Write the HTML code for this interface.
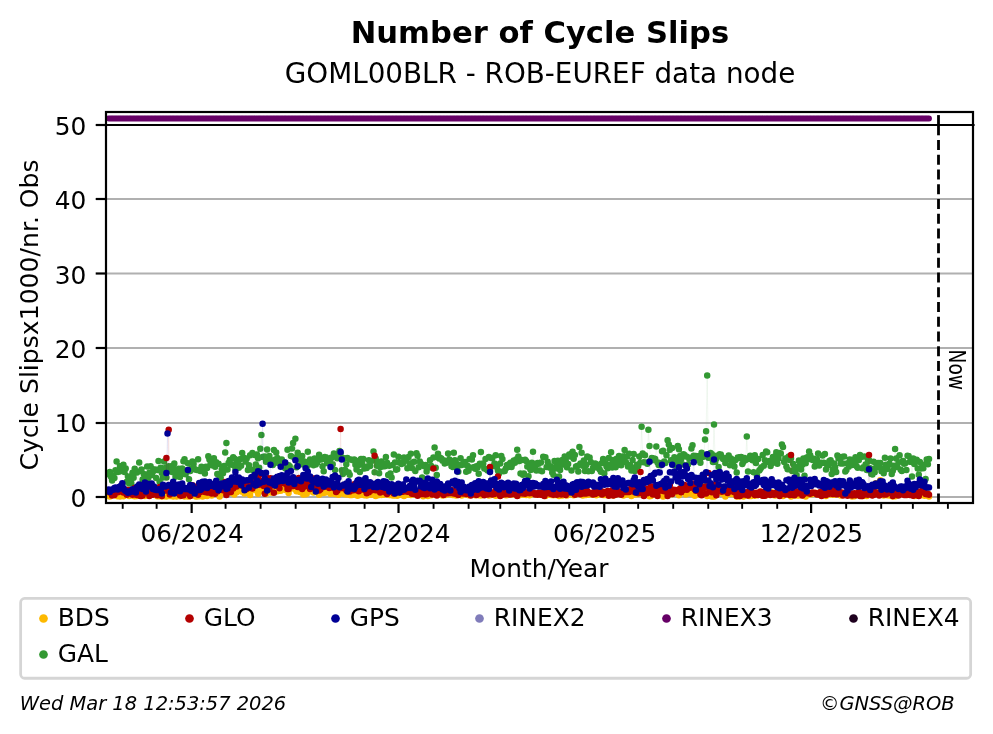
<!DOCTYPE html>
<html lang="en">
<head>
<meta charset="utf-8">
<title>Number of Cycle Slips</title>
<style>
html,body{margin:0;padding:0;background:#fff;}
body{width:993px;height:734px;overflow:hidden;}
svg{display:block;}
text{font-family:"DejaVu Sans","Liberation Sans",sans-serif;fill:#000;}
.t{font-size:24px;}
.d{fill:none;stroke-linecap:round;stroke-width:6.5;}
.l{fill:none;stroke-width:0.6;stroke-opacity:0.12;}
</style>
</head>
<body>
<svg width="993" height="734" viewBox="0 0 993 734">
<rect x="0" y="0" width="993" height="734" fill="#ffffff"/>
<text transform="translate(539.90 42.90) scale(1.0023 1)" font-size="30.56" text-anchor="middle" font-weight="bold" id="title">Number of Cycle Slips</text>
<text transform="translate(540.00 82.90) scale(1.0010 1)" font-size="27.78" text-anchor="middle" id="subtitle">GOML00BLR - ROB-EUREF data node</text>
<g stroke="#b0b0b0" stroke-width="2.2">
<line x1="106.0" y1="497.00" x2="973.0" y2="497.00"/>
<line x1="106.0" y1="423.00" x2="973.0" y2="423.00"/>
<line x1="106.0" y1="348.00" x2="973.0" y2="348.00"/>
<line x1="106.0" y1="273.50" x2="973.0" y2="273.50"/>
<line x1="106.0" y1="199.00" x2="973.0" y2="199.00"/>
</g>
<clipPath id="c"><rect x="106.0" y="112.0" width="867.0" height="391.0"/></clipPath>
<g clip-path="url(#c)">
<polyline class="l" stroke="#fdb900" points="108.7,495.3 109.8,496.5 111.0,494.9 112.1,495.1 113.2,492.6 114.4,494.3 115.5,495.5 116.6,494.5 117.8,496.2 118.9,495.6 120.0,496.5 121.1,493.5 122.3,494.4 123.4,496.2 124.5,495.0 125.7,494.0 126.8,494.4 127.9,494.5 129.1,495.9 130.2,495.7 131.3,494.8 132.5,493.9 133.6,495.9 134.7,496.2 135.9,493.6 137.0,496.0 138.1,493.6 139.2,494.6 140.4,493.8 141.5,492.8 142.6,494.0 143.8,493.9 144.9,496.0 146.0,495.8 147.2,494.0 148.3,492.9 149.4,493.0 150.6,491.8 151.7,494.4 152.8,494.6 154.0,493.5 155.1,494.8 156.2,494.9 157.4,496.3 158.5,493.4 159.6,496.3 160.7,494.1 161.9,496.5 163.0,493.2 164.1,496.3 165.3,493.5 166.4,496.5 167.5,495.4 168.7,493.0 169.8,496.0 170.9,494.7 172.1,495.5 173.2,496.5 174.3,494.3 175.5,494.1 176.6,496.5 177.7,493.8 178.8,496.0 180.0,496.3 181.1,494.7 182.2,495.8 183.4,490.9 184.5,496.5 185.6,493.4 186.8,493.0 187.9,496.5 189.0,496.5 190.2,493.7 191.3,495.5 192.4,494.0 193.6,492.6 194.7,495.3 195.8,496.5 197.0,496.5 198.1,494.3 199.2,496.3 200.3,494.0 201.5,494.0 202.6,496.5 203.7,491.0 204.9,492.0 206.0,492.4 207.1,496.1 208.3,494.5 209.4,494.6 210.5,494.3 211.7,495.5 212.8,492.4 213.9,492.6 215.1,492.2 216.2,493.8 217.3,490.1 218.5,492.2 219.6,496.5 220.7,493.6 221.8,492.3 223.0,490.1 224.1,492.6 225.2,492.3 226.4,493.1 227.5,490.2 228.6,492.4 229.8,492.6 230.9,492.8 232.0,489.9 233.2,492.1 234.3,494.5 235.4,489.4 236.6,492.2 237.7,489.9 238.8,489.8 239.9,487.9 241.1,488.3 242.2,491.8 243.3,490.9 244.5,493.4 245.6,486.7 246.7,489.4 247.9,487.3 249.0,491.1 250.1,494.9 251.3,486.9 252.4,490.1 253.5,489.9 254.7,490.1 255.8,488.7 256.9,489.0 258.1,493.7 259.2,487.7 260.3,491.2 261.4,491.1 262.6,486.1 263.7,487.9 264.8,490.7 266.0,494.1 267.1,489.5 268.2,488.6 269.4,490.0 270.5,492.6 271.6,491.5 272.8,492.5 273.9,489.2 275.0,487.8 276.2,487.3 277.3,491.2 278.4,489.0 279.5,488.3 280.7,490.7 281.8,489.8 282.9,484.7 284.1,489.0 285.2,487.4 286.3,490.3 287.5,489.2 288.6,493.1 289.7,489.3 290.9,486.7 292.0,484.8 293.1,486.9 294.3,488.1 295.4,489.6 296.5,491.2 297.7,490.3 298.8,488.7 299.9,491.9 301.0,488.2 302.2,492.6 303.3,494.4 304.4,492.8 305.6,494.3 306.7,493.7 307.8,488.5 309.0,491.4 310.1,490.7 311.2,488.8 312.4,488.8 313.5,492.5 314.6,488.9 315.8,490.9 316.9,491.8 318.0,491.0 319.1,494.7 320.3,493.6 321.4,492.4 322.5,491.1 323.7,493.1 324.8,492.7 325.9,490.8 327.1,490.1 328.2,491.4 329.3,490.6 330.5,493.7 331.6,493.6 332.7,492.5 333.9,493.6 335.0,494.0 336.1,490.3 337.3,493.5 338.4,494.8 339.5,492.4 340.6,490.2 341.8,493.1 342.9,491.3 344.0,494.0 345.2,494.1 346.3,494.4 347.4,493.6 348.6,490.6 349.7,495.1 350.8,491.0 352.0,494.9 353.1,493.8 354.2,492.3 355.4,492.6 356.5,493.2 357.6,495.8 358.8,493.1 359.9,495.0 361.0,490.2 362.1,493.9 363.3,493.4 364.4,495.2 365.5,494.3 366.7,495.4 367.8,492.6 368.9,494.1 370.1,493.2 371.2,494.7 372.3,494.5 373.5,492.4 374.6,495.0 375.7,495.9 376.9,493.5 378.0,495.2 379.1,494.5 380.2,493.1 381.4,494.9 382.5,493.2 383.6,494.8 384.8,492.7 385.9,492.9 387.0,494.6 388.2,494.4 389.3,495.0 390.4,494.1 391.6,493.3 392.7,495.5 393.8,493.6 395.0,495.4 396.1,495.1 397.2,495.8 398.4,492.8 399.5,494.4 400.6,494.3 401.7,495.0 402.9,493.7 404.0,496.0 405.1,494.4 406.3,492.8 407.4,494.8 408.5,494.5 409.7,494.0 410.8,495.1 411.9,494.5 413.1,493.8 414.2,494.3 415.3,494.2 416.5,494.7 417.6,494.2 418.7,494.4 419.8,493.4 421.0,493.9 422.1,494.6 423.2,496.3 424.4,493.9 425.5,493.9 426.6,495.2 427.8,496.0 428.9,495.3 430.0,493.8 431.2,495.3 432.3,494.8 433.4,494.3 434.6,493.6 435.7,494.5 436.8,494.5 438.0,494.9 439.1,493.3 440.2,493.7 441.3,494.5 442.5,495.5 443.6,495.1 444.7,494.0 445.9,495.0 447.0,493.8 448.1,494.2 449.3,494.3 450.4,494.0 451.5,494.1 452.7,495.1 453.8,494.7 454.9,492.7 456.1,495.4 457.2,494.8 458.3,493.7 459.4,494.6 460.6,495.1 461.7,495.5 462.8,494.1 464.0,493.7 465.1,493.4 466.2,494.4 467.4,493.7 468.5,495.2 469.6,494.3 470.8,495.0 471.9,494.3 473.0,493.9 474.2,493.7 475.3,495.2 476.4,493.5 477.6,494.8 478.7,495.2 479.8,494.6 480.9,495.6 482.1,494.5 483.2,494.3 484.3,494.6 485.5,494.1 486.6,494.7 487.7,494.5 488.9,495.5 490.0,494.4 491.1,495.1 492.3,494.8 493.4,494.5 494.5,494.3 495.7,495.7 496.8,495.6 497.9,494.7 499.0,494.1 500.2,494.2 501.3,493.8 502.4,493.5 503.6,494.1 504.7,494.5 505.8,495.2 507.0,495.2 508.1,494.8 509.2,494.3 510.4,494.3 511.5,494.5 512.6,494.6 513.8,494.0 514.9,494.3 516.0,494.2 517.2,494.2 518.3,494.9 519.4,495.2 520.5,494.1 521.7,494.2 522.8,494.6 523.9,494.8 525.1,492.8 526.2,495.0 527.3,494.6 528.5,494.3 529.6,495.3 530.7,494.4 531.9,493.1 533.0,493.8 534.1,494.0 535.3,494.0 536.4,494.4 537.5,493.8 538.7,494.6 539.8,494.8 540.9,494.4 542.0,493.8 543.2,494.2 544.3,494.0 545.4,496.0 546.6,493.6 547.7,492.7 548.8,493.5 550.0,494.7 551.1,495.1 552.2,494.3 553.4,495.2 554.5,493.9 555.6,494.9 556.8,493.8 557.9,493.5 559.0,496.0 560.1,494.3 561.3,495.0 562.4,495.5 563.5,494.9 564.7,494.6 565.8,493.7 566.9,495.6 568.1,493.7 569.2,493.0 570.3,494.0 571.5,494.1 572.6,494.5 573.7,495.3 574.9,494.1 576.0,494.2 577.1,493.9 578.3,492.6 579.4,493.9 580.5,494.2 581.6,493.3 582.8,495.5 583.9,495.3 585.0,494.7 586.2,495.0 587.3,494.0 588.4,494.7 589.6,493.2 590.7,493.3 591.8,493.9 593.0,494.8 594.1,494.0 595.2,493.9 596.4,495.3 597.5,494.2 598.6,493.9 599.7,494.3 600.9,493.3 602.0,493.6 603.1,495.1 604.3,494.4 605.4,495.1 606.5,494.0 607.7,495.1 608.8,493.8 609.9,494.2 611.1,493.7 612.2,494.6 613.3,495.6 614.5,493.2 615.6,494.6 616.7,493.4 617.9,494.1 619.0,494.0 620.1,493.1 621.2,494.2 622.4,493.3 623.5,495.6 624.6,493.6 625.8,494.5 626.9,494.4 628.0,494.2 629.2,493.9 630.3,492.6 631.4,495.9 632.6,494.0 633.7,494.7 634.8,492.8 636.0,494.4 637.1,493.4 638.2,494.3 639.3,493.1 640.5,492.7 641.6,494.2 642.7,493.7 643.9,495.4 645.0,493.3 646.1,492.6 647.3,494.3 648.4,492.1 649.5,496.2 650.7,495.9 651.8,495.3 652.9,494.1 654.1,493.4 655.2,493.5 656.3,493.4 657.5,492.2 658.6,493.9 659.7,495.1 660.8,495.0 662.0,489.9 663.1,496.5 664.2,493.3 665.4,490.7 666.5,492.2 667.6,494.3 668.8,492.9 669.9,491.4 671.0,490.8 672.2,494.3 673.3,491.4 674.4,492.3 675.6,490.7 676.7,490.2 677.8,493.2 678.9,495.3 680.1,491.8 681.2,489.2 682.3,491.2 683.5,492.0 684.6,487.7 685.7,494.4 686.9,490.5 688.0,493.4 689.1,492.2 690.3,492.1 691.4,489.1 692.5,494.2 693.7,493.4 694.8,495.7 695.9,491.3 697.1,493.4 698.2,491.5 699.3,494.8 700.4,493.2 701.6,490.2 702.7,492.9 703.8,491.1 705.0,485.5 706.1,493.3 707.2,495.9 708.4,490.5 709.5,492.2 710.6,490.6 711.8,496.5 712.9,496.0 714.0,496.5 715.2,494.5 716.3,490.7 717.4,491.6 718.6,492.8 719.7,492.5 720.8,491.3 721.9,493.4 723.1,492.1 724.2,492.6 725.3,496.5 726.5,493.6 727.6,490.5 728.7,493.7 729.9,493.2 731.0,494.1 732.1,493.9 733.3,491.1 734.4,493.6 735.5,494.9 736.7,496.5 737.8,494.2 738.9,496.5 740.0,496.3 741.2,492.1 742.3,492.3 743.4,496.5 744.6,492.2 745.7,492.9 746.8,494.8 748.0,492.5 749.1,496.1 750.2,495.5 751.4,495.9 752.5,495.4 753.6,492.6 754.8,495.8 755.9,495.6 757.0,495.3 758.2,493.8 759.3,494.5 760.4,492.9 761.5,495.0 762.7,495.8 763.8,494.8 764.9,494.0 766.1,495.3 767.2,493.7 768.3,491.6 769.5,494.9 770.6,494.0 771.7,492.3 772.9,495.0 774.0,495.2 775.1,495.6 776.3,493.6 777.4,493.4 778.5,494.3 779.6,494.0 780.8,492.4 781.9,492.9 783.0,496.0 784.2,494.1 785.3,493.9 786.4,493.1 787.6,494.4 788.7,495.0 789.8,494.7 791.0,496.5 792.1,494.1 793.2,494.9 794.4,493.5 795.5,495.5 796.6,494.7 797.8,495.4 798.9,495.6 800.0,493.1 801.1,494.7 802.3,493.5 803.4,495.6 804.5,494.0 805.7,496.4 806.8,494.7 807.9,494.8 809.1,493.3 810.2,493.8 811.3,494.3 812.5,492.9 813.6,493.8 814.7,493.3 815.9,493.0 817.0,494.2 818.1,494.5 819.2,493.6 820.4,494.7 821.5,493.5 822.6,492.5 823.8,492.9 824.9,494.6 826.0,495.9 827.2,494.1 828.3,494.2 829.4,492.5 830.6,494.6 831.7,494.4 832.8,493.0 834.0,494.7 835.1,494.3 836.2,491.7 837.4,492.0 838.5,493.2 839.6,493.7 840.7,495.4 841.9,493.3 843.0,494.0 844.1,493.7 845.3,494.8 846.4,494.1 847.5,494.3 848.7,493.6 849.8,492.0 850.9,493.5 852.1,496.4 853.2,495.4 854.3,496.3 855.5,495.2 856.6,493.2 857.7,493.5 858.9,494.9 860.0,493.7 861.1,495.1 862.2,496.1 863.4,496.0 864.5,495.3 865.6,492.0 866.8,495.9 867.9,492.2 869.0,492.1 870.2,494.3 871.3,494.1 872.4,494.9 873.6,494.1 874.7,493.1 875.8,483.3 877.0,492.6 878.1,492.3 879.2,493.5 880.3,480.3 881.5,494.1 882.6,493.5 883.7,495.6 884.9,493.4 886.0,493.7 887.1,495.3 888.3,490.9 889.4,495.4 890.5,495.3 891.7,493.6 892.8,496.5 893.9,495.1 895.1,496.2 896.2,495.4 897.3,494.2 898.5,493.5 899.6,492.4 900.7,492.8 901.8,492.3 903.0,493.1 904.1,494.7 905.2,492.4 906.4,494.7 907.5,494.9 908.6,491.7 909.8,492.8 910.9,493.7 912.0,492.9 913.2,492.7 914.3,496.0 915.4,494.1 916.6,495.7 917.7,493.8 918.8,495.0 919.9,492.0 921.1,493.2 922.2,495.2 923.3,494.0 924.5,495.8 925.6,493.9 926.7,493.1 927.9,493.6 929.0,496.5"/>
<path class="d" stroke="#fdb900" d="M108.7 495.3h0M109.8 496.5h0M111.0 494.9h0M112.1 495.1h0M113.2 492.6h0M114.4 494.3h0M115.5 495.5h0M116.6 494.5h0M117.8 496.2h0M118.9 495.6h0M120.0 496.5h0M121.1 493.5h0M122.3 494.4h0M123.4 496.2h0M124.5 495.0h0M125.7 494.0h0M126.8 494.4h0M127.9 494.5h0M129.1 495.9h0M130.2 495.7h0M131.3 494.8h0M132.5 493.9h0M133.6 495.9h0M134.7 496.2h0M135.9 493.6h0M137.0 496.0h0M138.1 493.6h0M139.2 494.6h0M140.4 493.8h0M141.5 492.8h0M142.6 494.0h0M143.8 493.9h0M144.9 496.0h0M146.0 495.8h0M147.2 494.0h0M148.3 492.9h0M149.4 493.0h0M150.6 491.8h0M151.7 494.4h0M152.8 494.6h0M154.0 493.5h0M155.1 494.8h0M156.2 494.9h0M157.4 496.3h0M158.5 493.4h0M159.6 496.3h0M160.7 494.1h0M161.9 496.5h0M163.0 493.2h0M164.1 496.3h0M165.3 493.5h0M166.4 496.5h0M167.5 495.4h0M168.7 493.0h0M169.8 496.0h0M170.9 494.7h0M172.1 495.5h0M173.2 496.5h0M174.3 494.3h0M175.5 494.1h0M176.6 496.5h0M177.7 493.8h0M178.8 496.0h0M180.0 496.3h0M181.1 494.7h0M182.2 495.8h0M183.4 490.9h0M184.5 496.5h0M185.6 493.4h0M186.8 493.0h0M187.9 496.5h0M189.0 496.5h0M190.2 493.7h0M191.3 495.5h0M192.4 494.0h0M193.6 492.6h0M194.7 495.3h0M195.8 496.5h0M197.0 496.5h0M198.1 494.3h0M199.2 496.3h0M200.3 494.0h0M201.5 494.0h0M202.6 496.5h0M203.7 491.0h0M204.9 492.0h0M206.0 492.4h0M207.1 496.1h0M208.3 494.5h0M209.4 494.6h0M210.5 494.3h0M211.7 495.5h0M212.8 492.4h0M213.9 492.6h0M215.1 492.2h0M216.2 493.8h0M217.3 490.1h0M218.5 492.2h0M219.6 496.5h0M220.7 493.6h0M221.8 492.3h0M223.0 490.1h0M224.1 492.6h0M225.2 492.3h0M226.4 493.1h0M227.5 490.2h0M228.6 492.4h0M229.8 492.6h0M230.9 492.8h0M232.0 489.9h0M233.2 492.1h0M234.3 494.5h0M235.4 489.4h0M236.6 492.2h0M237.7 489.9h0M238.8 489.8h0M239.9 487.9h0M241.1 488.3h0M242.2 491.8h0M243.3 490.9h0M244.5 493.4h0M245.6 486.7h0M246.7 489.4h0M247.9 487.3h0M249.0 491.1h0M250.1 494.9h0M251.3 486.9h0M252.4 490.1h0M253.5 489.9h0M254.7 490.1h0M255.8 488.7h0M256.9 489.0h0M258.1 493.7h0M259.2 487.7h0M260.3 491.2h0M261.4 491.1h0M262.6 486.1h0M263.7 487.9h0M264.8 490.7h0M266.0 494.1h0M267.1 489.5h0M268.2 488.6h0M269.4 490.0h0M270.5 492.6h0M271.6 491.5h0M272.8 492.5h0M273.9 489.2h0M275.0 487.8h0M276.2 487.3h0M277.3 491.2h0M278.4 489.0h0M279.5 488.3h0M280.7 490.7h0M281.8 489.8h0M282.9 484.7h0M284.1 489.0h0M285.2 487.4h0M286.3 490.3h0M287.5 489.2h0M288.6 493.1h0M289.7 489.3h0M290.9 486.7h0M292.0 484.8h0M293.1 486.9h0M294.3 488.1h0M295.4 489.6h0M296.5 491.2h0M297.7 490.3h0M298.8 488.7h0M299.9 491.9h0M301.0 488.2h0M302.2 492.6h0M303.3 494.4h0M304.4 492.8h0M305.6 494.3h0M306.7 493.7h0M307.8 488.5h0M309.0 491.4h0M310.1 490.7h0M311.2 488.8h0M312.4 488.8h0M313.5 492.5h0M314.6 488.9h0M315.8 490.9h0M316.9 491.8h0M318.0 491.0h0M319.1 494.7h0M320.3 493.6h0M321.4 492.4h0M322.5 491.1h0M323.7 493.1h0M324.8 492.7h0M325.9 490.8h0M327.1 490.1h0M328.2 491.4h0M329.3 490.6h0M330.5 493.7h0M331.6 493.6h0M332.7 492.5h0M333.9 493.6h0M335.0 494.0h0M336.1 490.3h0M337.3 493.5h0M338.4 494.8h0M339.5 492.4h0M340.6 490.2h0M341.8 493.1h0M342.9 491.3h0M344.0 494.0h0M345.2 494.1h0M346.3 494.4h0M347.4 493.6h0M348.6 490.6h0M349.7 495.1h0M350.8 491.0h0M352.0 494.9h0M353.1 493.8h0M354.2 492.3h0M355.4 492.6h0M356.5 493.2h0M357.6 495.8h0M358.8 493.1h0M359.9 495.0h0M361.0 490.2h0M362.1 493.9h0M363.3 493.4h0M364.4 495.2h0M365.5 494.3h0M366.7 495.4h0M367.8 492.6h0M368.9 494.1h0M370.1 493.2h0M371.2 494.7h0M372.3 494.5h0M373.5 492.4h0M374.6 495.0h0M375.7 495.9h0M376.9 493.5h0M378.0 495.2h0M379.1 494.5h0M380.2 493.1h0M381.4 494.9h0M382.5 493.2h0M383.6 494.8h0M384.8 492.7h0M385.9 492.9h0M387.0 494.6h0M388.2 494.4h0M389.3 495.0h0M390.4 494.1h0M391.6 493.3h0M392.7 495.5h0M393.8 493.6h0M395.0 495.4h0M396.1 495.1h0M397.2 495.8h0M398.4 492.8h0M399.5 494.4h0M400.6 494.3h0M401.7 495.0h0M402.9 493.7h0M404.0 496.0h0M405.1 494.4h0M406.3 492.8h0M407.4 494.8h0M408.5 494.5h0M409.7 494.0h0M410.8 495.1h0M411.9 494.5h0M413.1 493.8h0M414.2 494.3h0M415.3 494.2h0M416.5 494.7h0M417.6 494.2h0M418.7 494.4h0M419.8 493.4h0M421.0 493.9h0M422.1 494.6h0M423.2 496.3h0M424.4 493.9h0M425.5 493.9h0M426.6 495.2h0M427.8 496.0h0M428.9 495.3h0M430.0 493.8h0M431.2 495.3h0M432.3 494.8h0M433.4 494.3h0M434.6 493.6h0M435.7 494.5h0M436.8 494.5h0M438.0 494.9h0M439.1 493.3h0M440.2 493.7h0M441.3 494.5h0M442.5 495.5h0M443.6 495.1h0M444.7 494.0h0M445.9 495.0h0M447.0 493.8h0M448.1 494.2h0M449.3 494.3h0M450.4 494.0h0M451.5 494.1h0M452.7 495.1h0M453.8 494.7h0M454.9 492.7h0M456.1 495.4h0M457.2 494.8h0M458.3 493.7h0M459.4 494.6h0M460.6 495.1h0M461.7 495.5h0M462.8 494.1h0M464.0 493.7h0M465.1 493.4h0M466.2 494.4h0M467.4 493.7h0M468.5 495.2h0M469.6 494.3h0M470.8 495.0h0M471.9 494.3h0M473.0 493.9h0M474.2 493.7h0M475.3 495.2h0M476.4 493.5h0M477.6 494.8h0M478.7 495.2h0M479.8 494.6h0M480.9 495.6h0M482.1 494.5h0M483.2 494.3h0M484.3 494.6h0M485.5 494.1h0M486.6 494.7h0M487.7 494.5h0M488.9 495.5h0M490.0 494.4h0M491.1 495.1h0M492.3 494.8h0M493.4 494.5h0M494.5 494.3h0M495.7 495.7h0M496.8 495.6h0M497.9 494.7h0M499.0 494.1h0M500.2 494.2h0M501.3 493.8h0M502.4 493.5h0M503.6 494.1h0M504.7 494.5h0M505.8 495.2h0M507.0 495.2h0M508.1 494.8h0M509.2 494.3h0M510.4 494.3h0M511.5 494.5h0M512.6 494.6h0M513.8 494.0h0M514.9 494.3h0M516.0 494.2h0M517.2 494.2h0M518.3 494.9h0M519.4 495.2h0M520.5 494.1h0M521.7 494.2h0M522.8 494.6h0M523.9 494.8h0M525.1 492.8h0M526.2 495.0h0M527.3 494.6h0M528.5 494.3h0M529.6 495.3h0M530.7 494.4h0M531.9 493.1h0M533.0 493.8h0M534.1 494.0h0M535.3 494.0h0M536.4 494.4h0M537.5 493.8h0M538.7 494.6h0M539.8 494.8h0M540.9 494.4h0M542.0 493.8h0M543.2 494.2h0M544.3 494.0h0M545.4 496.0h0M546.6 493.6h0M547.7 492.7h0M548.8 493.5h0M550.0 494.7h0M551.1 495.1h0M552.2 494.3h0M553.4 495.2h0M554.5 493.9h0M555.6 494.9h0M556.8 493.8h0M557.9 493.5h0M559.0 496.0h0M560.1 494.3h0M561.3 495.0h0M562.4 495.5h0M563.5 494.9h0M564.7 494.6h0M565.8 493.7h0M566.9 495.6h0M568.1 493.7h0M569.2 493.0h0M570.3 494.0h0M571.5 494.1h0M572.6 494.5h0M573.7 495.3h0M574.9 494.1h0M576.0 494.2h0M577.1 493.9h0M578.3 492.6h0M579.4 493.9h0M580.5 494.2h0M581.6 493.3h0M582.8 495.5h0M583.9 495.3h0M585.0 494.7h0M586.2 495.0h0M587.3 494.0h0M588.4 494.7h0M589.6 493.2h0M590.7 493.3h0M591.8 493.9h0M593.0 494.8h0M594.1 494.0h0M595.2 493.9h0M596.4 495.3h0M597.5 494.2h0M598.6 493.9h0M599.7 494.3h0M600.9 493.3h0M602.0 493.6h0M603.1 495.1h0M604.3 494.4h0M605.4 495.1h0M606.5 494.0h0M607.7 495.1h0M608.8 493.8h0M609.9 494.2h0M611.1 493.7h0M612.2 494.6h0M613.3 495.6h0M614.5 493.2h0M615.6 494.6h0M616.7 493.4h0M617.9 494.1h0M619.0 494.0h0M620.1 493.1h0M621.2 494.2h0M622.4 493.3h0M623.5 495.6h0M624.6 493.6h0M625.8 494.5h0M626.9 494.4h0M628.0 494.2h0M629.2 493.9h0M630.3 492.6h0M631.4 495.9h0M632.6 494.0h0M633.7 494.7h0M634.8 492.8h0M636.0 494.4h0M637.1 493.4h0M638.2 494.3h0M639.3 493.1h0M640.5 492.7h0M641.6 494.2h0M642.7 493.7h0M643.9 495.4h0M645.0 493.3h0M646.1 492.6h0M647.3 494.3h0M648.4 492.1h0M649.5 496.2h0M650.7 495.9h0M651.8 495.3h0M652.9 494.1h0M654.1 493.4h0M655.2 493.5h0M656.3 493.4h0M657.5 492.2h0M658.6 493.9h0M659.7 495.1h0M660.8 495.0h0M662.0 489.9h0M663.1 496.5h0M664.2 493.3h0M665.4 490.7h0M666.5 492.2h0M667.6 494.3h0M668.8 492.9h0M669.9 491.4h0M671.0 490.8h0M672.2 494.3h0M673.3 491.4h0M674.4 492.3h0M675.6 490.7h0M676.7 490.2h0M677.8 493.2h0M678.9 495.3h0M680.1 491.8h0M681.2 489.2h0M682.3 491.2h0M683.5 492.0h0M684.6 487.7h0M685.7 494.4h0M686.9 490.5h0M688.0 493.4h0M689.1 492.2h0M690.3 492.1h0M691.4 489.1h0M692.5 494.2h0M693.7 493.4h0M694.8 495.7h0M695.9 491.3h0M697.1 493.4h0M698.2 491.5h0M699.3 494.8h0M700.4 493.2h0M701.6 490.2h0M702.7 492.9h0M703.8 491.1h0M705.0 485.5h0M706.1 493.3h0M707.2 495.9h0M708.4 490.5h0M709.5 492.2h0M710.6 490.6h0M711.8 496.5h0M712.9 496.0h0M714.0 496.5h0M715.2 494.5h0M716.3 490.7h0M717.4 491.6h0M718.6 492.8h0M719.7 492.5h0M720.8 491.3h0M721.9 493.4h0M723.1 492.1h0M724.2 492.6h0M725.3 496.5h0M726.5 493.6h0M727.6 490.5h0M728.7 493.7h0M729.9 493.2h0M731.0 494.1h0M732.1 493.9h0M733.3 491.1h0M734.4 493.6h0M735.5 494.9h0M736.7 496.5h0M737.8 494.2h0M738.9 496.5h0M740.0 496.3h0M741.2 492.1h0M742.3 492.3h0M743.4 496.5h0M744.6 492.2h0M745.7 492.9h0M746.8 494.8h0M748.0 492.5h0M749.1 496.1h0M750.2 495.5h0M751.4 495.9h0M752.5 495.4h0M753.6 492.6h0M754.8 495.8h0M755.9 495.6h0M757.0 495.3h0M758.2 493.8h0M759.3 494.5h0M760.4 492.9h0M761.5 495.0h0M762.7 495.8h0M763.8 494.8h0M764.9 494.0h0M766.1 495.3h0M767.2 493.7h0M768.3 491.6h0M769.5 494.9h0M770.6 494.0h0M771.7 492.3h0M772.9 495.0h0M774.0 495.2h0M775.1 495.6h0M776.3 493.6h0M777.4 493.4h0M778.5 494.3h0M779.6 494.0h0M780.8 492.4h0M781.9 492.9h0M783.0 496.0h0M784.2 494.1h0M785.3 493.9h0M786.4 493.1h0M787.6 494.4h0M788.7 495.0h0M789.8 494.7h0M791.0 496.5h0M792.1 494.1h0M793.2 494.9h0M794.4 493.5h0M795.5 495.5h0M796.6 494.7h0M797.8 495.4h0M798.9 495.6h0M800.0 493.1h0M801.1 494.7h0M802.3 493.5h0M803.4 495.6h0M804.5 494.0h0M805.7 496.4h0M806.8 494.7h0M807.9 494.8h0M809.1 493.3h0M810.2 493.8h0M811.3 494.3h0M812.5 492.9h0M813.6 493.8h0M814.7 493.3h0M815.9 493.0h0M817.0 494.2h0M818.1 494.5h0M819.2 493.6h0M820.4 494.7h0M821.5 493.5h0M822.6 492.5h0M823.8 492.9h0M824.9 494.6h0M826.0 495.9h0M827.2 494.1h0M828.3 494.2h0M829.4 492.5h0M830.6 494.6h0M831.7 494.4h0M832.8 493.0h0M834.0 494.7h0M835.1 494.3h0M836.2 491.7h0M837.4 492.0h0M838.5 493.2h0M839.6 493.7h0M840.7 495.4h0M841.9 493.3h0M843.0 494.0h0M844.1 493.7h0M845.3 494.8h0M846.4 494.1h0M847.5 494.3h0M848.7 493.6h0M849.8 492.0h0M850.9 493.5h0M852.1 496.4h0M853.2 495.4h0M854.3 496.3h0M855.5 495.2h0M856.6 493.2h0M857.7 493.5h0M858.9 494.9h0M860.0 493.7h0M861.1 495.1h0M862.2 496.1h0M863.4 496.0h0M864.5 495.3h0M865.6 492.0h0M866.8 495.9h0M867.9 492.2h0M869.0 492.1h0M870.2 494.3h0M871.3 494.1h0M872.4 494.9h0M873.6 494.1h0M874.7 493.1h0M875.8 483.3h0M877.0 492.6h0M878.1 492.3h0M879.2 493.5h0M880.3 480.3h0M881.5 494.1h0M882.6 493.5h0M883.7 495.6h0M884.9 493.4h0M886.0 493.7h0M887.1 495.3h0M888.3 490.9h0M889.4 495.4h0M890.5 495.3h0M891.7 493.6h0M892.8 496.5h0M893.9 495.1h0M895.1 496.2h0M896.2 495.4h0M897.3 494.2h0M898.5 493.5h0M899.6 492.4h0M900.7 492.8h0M901.8 492.3h0M903.0 493.1h0M904.1 494.7h0M905.2 492.4h0M906.4 494.7h0M907.5 494.9h0M908.6 491.7h0M909.8 492.8h0M910.9 493.7h0M912.0 492.9h0M913.2 492.7h0M914.3 496.0h0M915.4 494.1h0M916.6 495.7h0M917.7 493.8h0M918.8 495.0h0M919.9 492.0h0M921.1 493.2h0M922.2 495.2h0M923.3 494.0h0M924.5 495.8h0M925.6 493.9h0M926.7 493.1h0M927.9 493.6h0M929.0 496.5h0"/>
<polyline class="l" stroke="#339933" points="108.7,474.4 109.8,471.9 111.0,476.8 112.1,480.5 113.2,476.2 114.4,478.0 115.5,470.3 116.6,461.5 117.8,472.0 118.9,471.7 120.0,466.2 121.1,468.4 122.3,471.0 123.4,464.7 124.5,472.0 125.7,468.6 126.8,481.7 127.9,476.5 129.1,483.5 130.2,479.8 131.3,483.0 132.5,472.7 133.6,477.7 134.7,468.8 135.9,471.2 137.0,472.6 138.1,486.0 139.2,462.5 140.4,471.0 141.5,469.6 142.6,479.4 143.8,474.0 144.9,476.1 146.0,476.5 147.2,466.6 148.3,477.9 149.4,472.7 150.6,466.2 151.7,475.1 152.8,471.9 154.0,469.4 155.1,469.5 156.2,478.1 157.4,470.1 158.5,461.0 159.6,481.8 160.7,467.8 161.9,473.1 163.0,477.6 164.1,461.5 165.3,468.1 166.4,477.4 167.5,469.4 168.7,466.2 169.8,470.9 170.9,466.3 172.1,471.9 173.2,468.1 174.3,463.6 175.5,476.7 176.6,470.2 177.7,473.6 178.8,468.8 180.0,477.0 181.1,472.3 182.2,468.4 183.4,461.2 184.5,459.3 185.6,474.2 186.8,470.6 187.9,463.2 189.0,479.3 190.2,470.9 191.3,468.7 192.4,461.5 193.6,464.0 194.7,469.0 195.8,469.8 197.0,469.9 198.1,459.3 199.2,470.2 200.3,470.9 201.5,466.8 202.6,469.1 203.7,467.9 204.9,473.6 206.0,466.7 207.1,468.0 208.3,456.3 209.4,459.5 210.5,464.2 211.7,459.9 212.8,465.4 213.9,458.2 215.1,466.7 216.2,462.2 217.3,473.9 218.5,463.8 219.6,477.0 220.7,477.8 221.8,469.6 223.0,473.3 224.1,465.9 225.2,452.5 226.4,443.1 227.5,469.5 228.6,462.7 229.8,460.1 230.9,464.2 232.0,464.7 233.2,457.3 234.3,458.4 235.4,469.0 236.6,464.0 237.7,462.1 238.8,467.8 239.9,459.2 241.1,465.8 242.2,453.0 243.3,457.4 244.5,459.0 245.6,461.4 246.7,458.6 247.9,470.0 249.0,465.2 250.1,455.3 251.3,469.4 252.4,453.1 253.5,470.5 254.7,454.9 255.8,464.5 256.9,454.5 258.1,458.3 259.2,467.7 260.3,448.8 261.4,434.9 262.6,456.9 263.7,456.9 264.8,456.6 266.0,461.7 267.1,449.5 268.2,457.6 269.4,455.9 270.5,462.0 271.6,461.3 272.8,465.0 273.9,450.0 275.0,459.7 276.2,452.4 277.3,458.1 278.4,462.9 279.5,462.1 280.7,463.3 281.8,459.4 282.9,462.3 284.1,462.2 285.2,468.3 286.3,464.8 287.5,449.7 288.6,465.3 289.7,466.2 290.9,456.0 292.0,448.6 293.1,443.1 294.3,457.7 295.4,438.7 296.5,467.3 297.7,452.8 298.8,459.8 299.9,458.5 301.0,464.2 302.2,456.0 303.3,462.1 304.4,461.4 305.6,466.3 306.7,467.3 307.8,451.7 309.0,463.7 310.1,459.5 311.2,462.6 312.4,464.8 313.5,465.3 314.6,458.4 315.8,464.5 316.9,462.6 318.0,460.5 319.1,454.7 320.3,458.4 321.4,459.5 322.5,466.3 323.7,471.2 324.8,457.1 325.9,457.3 327.1,463.1 328.2,459.8 329.3,458.3 330.5,459.1 331.6,457.5 332.7,464.3 333.9,453.4 335.0,470.0 336.1,455.7 337.3,458.2 338.4,456.3 339.5,451.0 340.6,453.5 341.8,470.2 342.9,474.0 344.0,458.2 345.2,470.0 346.3,464.2 347.4,457.9 348.6,472.6 349.7,474.8 350.8,459.6 352.0,460.1 353.1,460.0 354.2,459.6 355.4,464.7 356.5,469.6 357.6,460.9 358.8,465.0 359.9,472.1 361.0,459.1 362.1,462.7 363.3,459.1 364.4,468.4 365.5,467.6 366.7,468.0 367.8,466.2 368.9,460.2 370.1,466.0 371.2,461.1 372.3,460.8 373.5,451.5 374.6,472.2 375.7,458.4 376.9,465.7 378.0,463.4 379.1,473.3 380.2,467.2 381.4,461.6 382.5,466.5 383.6,464.5 384.8,466.3 385.9,457.0 387.0,462.8 388.2,475.0 389.3,465.8 390.4,473.5 391.6,477.4 392.7,464.9 393.8,454.4 395.0,462.4 396.1,469.7 397.2,469.3 398.4,456.7 399.5,462.7 400.6,462.8 401.7,463.9 402.9,463.2 404.0,457.6 405.1,460.2 406.3,460.5 407.4,468.3 408.5,457.0 409.7,463.8 410.8,453.7 411.9,468.1 413.1,462.3 414.2,461.7 415.3,471.0 416.5,453.3 417.6,455.7 418.7,467.3 419.8,461.6 421.0,463.8 422.1,477.4 423.2,465.4 424.4,466.2 425.5,465.0 426.6,471.5 427.8,468.1 428.9,467.7 430.0,460.3 431.2,466.1 432.3,467.2 433.4,457.6 434.6,447.6 435.7,467.8 436.8,474.9 438.0,453.8 439.1,458.6 440.2,457.8 441.3,458.5 442.5,460.8 443.6,460.3 444.7,463.6 445.9,462.9 447.0,461.9 448.1,453.6 449.3,459.6 450.4,462.3 451.5,466.2 452.7,467.1 453.8,452.7 454.9,460.3 456.1,463.5 457.2,467.4 458.3,471.7 459.4,465.1 460.6,458.3 461.7,465.0 462.8,464.2 464.0,464.6 465.1,462.0 466.2,471.7 467.4,465.8 468.5,470.8 469.6,458.9 470.8,467.8 471.9,459.6 473.0,455.3 474.2,467.0 475.3,468.8 476.4,466.2 477.6,467.5 478.7,473.7 479.8,463.8 480.9,451.9 482.1,464.5 483.2,463.4 484.3,468.5 485.5,459.0 486.6,469.4 487.7,470.5 488.9,456.9 490.0,470.6 491.1,458.0 492.3,457.9 493.4,465.9 494.5,463.6 495.7,455.2 496.8,467.1 497.9,470.4 499.0,473.5 500.2,463.4 501.3,456.0 502.4,459.0 503.6,471.3 504.7,470.9 505.8,468.4 507.0,465.0 508.1,467.0 509.2,464.0 510.4,462.7 511.5,467.0 512.6,464.1 513.8,460.4 514.9,462.8 516.0,459.6 517.2,449.7 518.3,456.5 519.4,461.1 520.5,473.5 521.7,460.1 522.8,474.7 523.9,473.5 525.1,459.7 526.2,461.0 527.3,466.4 528.5,476.3 529.6,468.0 530.7,470.1 531.9,462.7 533.0,451.7 534.1,463.6 535.3,468.4 536.4,470.5 537.5,463.0 538.7,463.7 539.8,470.5 540.9,462.5 542.0,471.3 543.2,456.7 544.3,457.0 545.4,457.3 546.6,466.9 547.7,461.8 548.8,464.9 550.0,467.8 551.1,466.7 552.2,472.6 553.4,474.7 554.5,461.0 555.6,468.5 556.8,465.5 557.9,460.7 559.0,476.4 560.1,469.9 561.3,464.0 562.4,460.0 563.5,464.4 564.7,456.6 565.8,461.2 566.9,467.2 568.1,464.0 569.2,454.5 570.3,456.6 571.5,470.5 572.6,451.8 573.7,458.8 574.9,455.1 576.0,466.4 577.1,466.1 578.3,471.5 579.4,447.0 580.5,463.4 581.6,452.7 582.8,465.8 583.9,460.5 585.0,471.0 586.2,465.0 587.3,456.6 588.4,471.3 589.6,457.6 590.7,462.0 591.8,471.0 593.0,467.9 594.1,467.3 595.2,463.5 596.4,465.4 597.5,467.8 598.6,464.8 599.7,469.6 600.9,471.7 602.0,462.9 603.1,459.0 604.3,473.4 605.4,463.6 606.5,466.5 607.7,468.2 608.8,458.1 609.9,464.8 611.1,452.2 612.2,467.5 613.3,460.1 614.5,463.8 615.6,467.2 616.7,458.8 617.9,462.7 619.0,456.1 620.1,460.2 621.2,465.2 622.4,457.9 623.5,456.2 624.6,450.0 625.8,462.0 626.9,456.4 628.0,466.6 629.2,453.8 630.3,465.0 631.4,470.6 632.6,460.0 633.7,453.9 634.8,471.1 636.0,467.3 637.1,464.7 638.2,465.9 639.3,456.4 640.5,462.4 641.6,426.8 642.7,453.4 643.9,462.3 645.0,455.2 646.1,462.4 647.3,463.7 648.4,429.7 649.5,446.1 650.7,460.2 651.8,457.9 652.9,459.9 654.1,458.4 655.2,459.0 656.3,446.5 657.5,462.5 658.6,465.0 659.7,463.0 660.8,465.3 662.0,451.2 663.1,450.7 664.2,461.6 665.4,463.0 666.5,455.3 667.6,440.2 668.8,444.6 669.9,449.7 671.0,460.3 672.2,448.0 673.3,461.9 674.4,457.3 675.6,465.4 676.7,461.6 677.8,446.0 678.9,449.2 680.1,456.1 681.2,459.0 682.3,464.3 683.5,454.3 684.6,454.9 685.7,456.2 686.9,456.7 688.0,464.4 689.1,458.6 690.3,457.9 691.4,448.4 692.5,445.3 693.7,455.8 694.8,459.3 695.9,456.1 697.1,460.1 698.2,460.3 699.3,455.9 700.4,462.8 701.6,452.8 702.7,457.0 703.8,454.9 705.0,439.4 706.1,431.2 707.2,375.4 708.4,457.8 709.5,457.1 710.6,453.0 711.8,454.1 712.9,462.0 714.0,424.5 715.2,461.7 716.3,458.7 717.4,455.4 718.6,467.0 719.7,454.2 720.8,454.4 721.9,456.9 723.1,459.1 724.2,459.1 725.3,463.1 726.5,458.0 727.6,458.7 728.7,455.4 729.9,465.2 731.0,458.6 732.1,460.8 733.3,462.6 734.4,466.5 735.5,460.1 736.7,472.5 737.8,457.6 738.9,457.2 740.0,458.1 741.2,457.0 742.3,464.1 743.4,461.9 744.6,458.0 745.7,459.9 746.8,436.4 748.0,471.5 749.1,458.8 750.2,455.7 751.4,456.1 752.5,460.2 753.6,472.2 754.8,455.2 755.9,463.1 757.0,475.8 758.2,459.0 759.3,470.5 760.4,469.1 761.5,467.3 762.7,455.1 763.8,465.7 764.9,460.2 766.1,451.4 767.2,452.2 768.3,461.7 769.5,460.9 770.6,466.0 771.7,463.6 772.9,457.0 774.0,458.5 775.1,458.6 776.3,452.2 777.4,463.7 778.5,458.5 779.6,453.1 780.8,453.5 781.9,444.6 783.0,446.9 784.2,461.9 785.3,458.4 786.4,466.5 787.6,469.3 788.7,456.4 789.8,459.9 791.0,458.5 792.1,471.0 793.2,464.1 794.4,466.8 795.5,469.7 796.6,475.0 797.8,466.9 798.9,460.4 800.0,464.3 801.1,469.4 802.3,464.7 803.4,458.4 804.5,475.7 805.7,463.3 806.8,457.5 807.9,457.0 809.1,451.4 810.2,455.2 811.3,459.5 812.5,460.0 813.6,458.7 814.7,466.5 815.9,463.1 817.0,459.5 818.1,453.6 819.2,465.4 820.4,463.5 821.5,462.7 822.6,455.6 823.8,462.7 824.9,454.1 826.0,469.6 827.2,465.1 828.3,465.1 829.4,461.1 830.6,460.2 831.7,474.1 832.8,469.2 834.0,463.4 835.1,467.3 836.2,472.0 837.4,455.5 838.5,458.6 839.6,459.1 840.7,463.4 841.9,456.9 843.0,463.5 844.1,456.6 845.3,471.5 846.4,469.9 847.5,463.2 848.7,466.7 849.8,459.4 850.9,460.5 852.1,464.9 853.2,459.7 854.3,462.9 855.5,457.3 856.6,466.3 857.7,467.8 858.9,460.1 860.0,454.9 861.1,457.1 862.2,468.2 863.4,467.3 864.5,456.5 865.6,464.5 866.8,469.9 867.9,461.7 869.0,460.2 870.2,468.2 871.3,473.9 872.4,474.4 873.6,461.7 874.7,472.2 875.8,467.7 877.0,464.2 878.1,462.9 879.2,467.6 880.3,463.0 881.5,471.3 882.6,469.0 883.7,473.2 884.9,457.8 886.0,464.7 887.1,468.9 888.3,465.2 889.4,463.8 890.5,458.6 891.7,474.1 892.8,470.8 893.9,465.8 895.1,448.9 896.2,458.6 897.3,466.9 898.5,462.3 899.6,455.3 900.7,469.8 901.8,470.9 903.0,460.9 904.1,463.7 905.2,463.3 906.4,470.0 907.5,455.8 908.6,455.9 909.8,461.7 910.9,460.7 912.0,476.5 913.2,458.6 914.3,464.1 915.4,459.7 916.6,459.8 917.7,468.6 918.8,474.7 919.9,462.0 921.1,468.5 922.2,466.9 923.3,468.2 924.5,464.6 925.6,478.9 926.7,459.5 927.9,464.3 929.0,459.0"/>
<path class="d" stroke="#339933" d="M108.7 474.4h0M109.8 471.9h0M111.0 476.8h0M112.1 480.5h0M113.2 476.2h0M114.4 478.0h0M115.5 470.3h0M116.6 461.5h0M117.8 472.0h0M118.9 471.7h0M120.0 466.2h0M121.1 468.4h0M122.3 471.0h0M123.4 464.7h0M124.5 472.0h0M125.7 468.6h0M126.8 481.7h0M127.9 476.5h0M129.1 483.5h0M130.2 479.8h0M131.3 483.0h0M132.5 472.7h0M133.6 477.7h0M134.7 468.8h0M135.9 471.2h0M137.0 472.6h0M138.1 486.0h0M139.2 462.5h0M140.4 471.0h0M141.5 469.6h0M142.6 479.4h0M143.8 474.0h0M144.9 476.1h0M146.0 476.5h0M147.2 466.6h0M148.3 477.9h0M149.4 472.7h0M150.6 466.2h0M151.7 475.1h0M152.8 471.9h0M154.0 469.4h0M155.1 469.5h0M156.2 478.1h0M157.4 470.1h0M158.5 461.0h0M159.6 481.8h0M160.7 467.8h0M161.9 473.1h0M163.0 477.6h0M164.1 461.5h0M165.3 468.1h0M166.4 477.4h0M167.5 469.4h0M168.7 466.2h0M169.8 470.9h0M170.9 466.3h0M172.1 471.9h0M173.2 468.1h0M174.3 463.6h0M175.5 476.7h0M176.6 470.2h0M177.7 473.6h0M178.8 468.8h0M180.0 477.0h0M181.1 472.3h0M182.2 468.4h0M183.4 461.2h0M184.5 459.3h0M185.6 474.2h0M186.8 470.6h0M187.9 463.2h0M189.0 479.3h0M190.2 470.9h0M191.3 468.7h0M192.4 461.5h0M193.6 464.0h0M194.7 469.0h0M195.8 469.8h0M197.0 469.9h0M198.1 459.3h0M199.2 470.2h0M200.3 470.9h0M201.5 466.8h0M202.6 469.1h0M203.7 467.9h0M204.9 473.6h0M206.0 466.7h0M207.1 468.0h0M208.3 456.3h0M209.4 459.5h0M210.5 464.2h0M211.7 459.9h0M212.8 465.4h0M213.9 458.2h0M215.1 466.7h0M216.2 462.2h0M217.3 473.9h0M218.5 463.8h0M219.6 477.0h0M220.7 477.8h0M221.8 469.6h0M223.0 473.3h0M224.1 465.9h0M225.2 452.5h0M226.4 443.1h0M227.5 469.5h0M228.6 462.7h0M229.8 460.1h0M230.9 464.2h0M232.0 464.7h0M233.2 457.3h0M234.3 458.4h0M235.4 469.0h0M236.6 464.0h0M237.7 462.1h0M238.8 467.8h0M239.9 459.2h0M241.1 465.8h0M242.2 453.0h0M243.3 457.4h0M244.5 459.0h0M245.6 461.4h0M246.7 458.6h0M247.9 470.0h0M249.0 465.2h0M250.1 455.3h0M251.3 469.4h0M252.4 453.1h0M253.5 470.5h0M254.7 454.9h0M255.8 464.5h0M256.9 454.5h0M258.1 458.3h0M259.2 467.7h0M260.3 448.8h0M261.4 434.9h0M262.6 456.9h0M263.7 456.9h0M264.8 456.6h0M266.0 461.7h0M267.1 449.5h0M268.2 457.6h0M269.4 455.9h0M270.5 462.0h0M271.6 461.3h0M272.8 465.0h0M273.9 450.0h0M275.0 459.7h0M276.2 452.4h0M277.3 458.1h0M278.4 462.9h0M279.5 462.1h0M280.7 463.3h0M281.8 459.4h0M282.9 462.3h0M284.1 462.2h0M285.2 468.3h0M286.3 464.8h0M287.5 449.7h0M288.6 465.3h0M289.7 466.2h0M290.9 456.0h0M292.0 448.6h0M293.1 443.1h0M294.3 457.7h0M295.4 438.7h0M296.5 467.3h0M297.7 452.8h0M298.8 459.8h0M299.9 458.5h0M301.0 464.2h0M302.2 456.0h0M303.3 462.1h0M304.4 461.4h0M305.6 466.3h0M306.7 467.3h0M307.8 451.7h0M309.0 463.7h0M310.1 459.5h0M311.2 462.6h0M312.4 464.8h0M313.5 465.3h0M314.6 458.4h0M315.8 464.5h0M316.9 462.6h0M318.0 460.5h0M319.1 454.7h0M320.3 458.4h0M321.4 459.5h0M322.5 466.3h0M323.7 471.2h0M324.8 457.1h0M325.9 457.3h0M327.1 463.1h0M328.2 459.8h0M329.3 458.3h0M330.5 459.1h0M331.6 457.5h0M332.7 464.3h0M333.9 453.4h0M335.0 470.0h0M336.1 455.7h0M337.3 458.2h0M338.4 456.3h0M339.5 451.0h0M340.6 453.5h0M341.8 470.2h0M342.9 474.0h0M344.0 458.2h0M345.2 470.0h0M346.3 464.2h0M347.4 457.9h0M348.6 472.6h0M349.7 474.8h0M350.8 459.6h0M352.0 460.1h0M353.1 460.0h0M354.2 459.6h0M355.4 464.7h0M356.5 469.6h0M357.6 460.9h0M358.8 465.0h0M359.9 472.1h0M361.0 459.1h0M362.1 462.7h0M363.3 459.1h0M364.4 468.4h0M365.5 467.6h0M366.7 468.0h0M367.8 466.2h0M368.9 460.2h0M370.1 466.0h0M371.2 461.1h0M372.3 460.8h0M373.5 451.5h0M374.6 472.2h0M375.7 458.4h0M376.9 465.7h0M378.0 463.4h0M379.1 473.3h0M380.2 467.2h0M381.4 461.6h0M382.5 466.5h0M383.6 464.5h0M384.8 466.3h0M385.9 457.0h0M387.0 462.8h0M388.2 475.0h0M389.3 465.8h0M390.4 473.5h0M391.6 477.4h0M392.7 464.9h0M393.8 454.4h0M395.0 462.4h0M396.1 469.7h0M397.2 469.3h0M398.4 456.7h0M399.5 462.7h0M400.6 462.8h0M401.7 463.9h0M402.9 463.2h0M404.0 457.6h0M405.1 460.2h0M406.3 460.5h0M407.4 468.3h0M408.5 457.0h0M409.7 463.8h0M410.8 453.7h0M411.9 468.1h0M413.1 462.3h0M414.2 461.7h0M415.3 471.0h0M416.5 453.3h0M417.6 455.7h0M418.7 467.3h0M419.8 461.6h0M421.0 463.8h0M422.1 477.4h0M423.2 465.4h0M424.4 466.2h0M425.5 465.0h0M426.6 471.5h0M427.8 468.1h0M428.9 467.7h0M430.0 460.3h0M431.2 466.1h0M432.3 467.2h0M433.4 457.6h0M434.6 447.6h0M435.7 467.8h0M436.8 474.9h0M438.0 453.8h0M439.1 458.6h0M440.2 457.8h0M441.3 458.5h0M442.5 460.8h0M443.6 460.3h0M444.7 463.6h0M445.9 462.9h0M447.0 461.9h0M448.1 453.6h0M449.3 459.6h0M450.4 462.3h0M451.5 466.2h0M452.7 467.1h0M453.8 452.7h0M454.9 460.3h0M456.1 463.5h0M457.2 467.4h0M458.3 471.7h0M459.4 465.1h0M460.6 458.3h0M461.7 465.0h0M462.8 464.2h0M464.0 464.6h0M465.1 462.0h0M466.2 471.7h0M467.4 465.8h0M468.5 470.8h0M469.6 458.9h0M470.8 467.8h0M471.9 459.6h0M473.0 455.3h0M474.2 467.0h0M475.3 468.8h0M476.4 466.2h0M477.6 467.5h0M478.7 473.7h0M479.8 463.8h0M480.9 451.9h0M482.1 464.5h0M483.2 463.4h0M484.3 468.5h0M485.5 459.0h0M486.6 469.4h0M487.7 470.5h0M488.9 456.9h0M490.0 470.6h0M491.1 458.0h0M492.3 457.9h0M493.4 465.9h0M494.5 463.6h0M495.7 455.2h0M496.8 467.1h0M497.9 470.4h0M499.0 473.5h0M500.2 463.4h0M501.3 456.0h0M502.4 459.0h0M503.6 471.3h0M504.7 470.9h0M505.8 468.4h0M507.0 465.0h0M508.1 467.0h0M509.2 464.0h0M510.4 462.7h0M511.5 467.0h0M512.6 464.1h0M513.8 460.4h0M514.9 462.8h0M516.0 459.6h0M517.2 449.7h0M518.3 456.5h0M519.4 461.1h0M520.5 473.5h0M521.7 460.1h0M522.8 474.7h0M523.9 473.5h0M525.1 459.7h0M526.2 461.0h0M527.3 466.4h0M528.5 476.3h0M529.6 468.0h0M530.7 470.1h0M531.9 462.7h0M533.0 451.7h0M534.1 463.6h0M535.3 468.4h0M536.4 470.5h0M537.5 463.0h0M538.7 463.7h0M539.8 470.5h0M540.9 462.5h0M542.0 471.3h0M543.2 456.7h0M544.3 457.0h0M545.4 457.3h0M546.6 466.9h0M547.7 461.8h0M548.8 464.9h0M550.0 467.8h0M551.1 466.7h0M552.2 472.6h0M553.4 474.7h0M554.5 461.0h0M555.6 468.5h0M556.8 465.5h0M557.9 460.7h0M559.0 476.4h0M560.1 469.9h0M561.3 464.0h0M562.4 460.0h0M563.5 464.4h0M564.7 456.6h0M565.8 461.2h0M566.9 467.2h0M568.1 464.0h0M569.2 454.5h0M570.3 456.6h0M571.5 470.5h0M572.6 451.8h0M573.7 458.8h0M574.9 455.1h0M576.0 466.4h0M577.1 466.1h0M578.3 471.5h0M579.4 447.0h0M580.5 463.4h0M581.6 452.7h0M582.8 465.8h0M583.9 460.5h0M585.0 471.0h0M586.2 465.0h0M587.3 456.6h0M588.4 471.3h0M589.6 457.6h0M590.7 462.0h0M591.8 471.0h0M593.0 467.9h0M594.1 467.3h0M595.2 463.5h0M596.4 465.4h0M597.5 467.8h0M598.6 464.8h0M599.7 469.6h0M600.9 471.7h0M602.0 462.9h0M603.1 459.0h0M604.3 473.4h0M605.4 463.6h0M606.5 466.5h0M607.7 468.2h0M608.8 458.1h0M609.9 464.8h0M611.1 452.2h0M612.2 467.5h0M613.3 460.1h0M614.5 463.8h0M615.6 467.2h0M616.7 458.8h0M617.9 462.7h0M619.0 456.1h0M620.1 460.2h0M621.2 465.2h0M622.4 457.9h0M623.5 456.2h0M624.6 450.0h0M625.8 462.0h0M626.9 456.4h0M628.0 466.6h0M629.2 453.8h0M630.3 465.0h0M631.4 470.6h0M632.6 460.0h0M633.7 453.9h0M634.8 471.1h0M636.0 467.3h0M637.1 464.7h0M638.2 465.9h0M639.3 456.4h0M640.5 462.4h0M641.6 426.8h0M642.7 453.4h0M643.9 462.3h0M645.0 455.2h0M646.1 462.4h0M647.3 463.7h0M648.4 429.7h0M649.5 446.1h0M650.7 460.2h0M651.8 457.9h0M652.9 459.9h0M654.1 458.4h0M655.2 459.0h0M656.3 446.5h0M657.5 462.5h0M658.6 465.0h0M659.7 463.0h0M660.8 465.3h0M662.0 451.2h0M663.1 450.7h0M664.2 461.6h0M665.4 463.0h0M666.5 455.3h0M667.6 440.2h0M668.8 444.6h0M669.9 449.7h0M671.0 460.3h0M672.2 448.0h0M673.3 461.9h0M674.4 457.3h0M675.6 465.4h0M676.7 461.6h0M677.8 446.0h0M678.9 449.2h0M680.1 456.1h0M681.2 459.0h0M682.3 464.3h0M683.5 454.3h0M684.6 454.9h0M685.7 456.2h0M686.9 456.7h0M688.0 464.4h0M689.1 458.6h0M690.3 457.9h0M691.4 448.4h0M692.5 445.3h0M693.7 455.8h0M694.8 459.3h0M695.9 456.1h0M697.1 460.1h0M698.2 460.3h0M699.3 455.9h0M700.4 462.8h0M701.6 452.8h0M702.7 457.0h0M703.8 454.9h0M705.0 439.4h0M706.1 431.2h0M707.2 375.4h0M708.4 457.8h0M709.5 457.1h0M710.6 453.0h0M711.8 454.1h0M712.9 462.0h0M714.0 424.5h0M715.2 461.7h0M716.3 458.7h0M717.4 455.4h0M718.6 467.0h0M719.7 454.2h0M720.8 454.4h0M721.9 456.9h0M723.1 459.1h0M724.2 459.1h0M725.3 463.1h0M726.5 458.0h0M727.6 458.7h0M728.7 455.4h0M729.9 465.2h0M731.0 458.6h0M732.1 460.8h0M733.3 462.6h0M734.4 466.5h0M735.5 460.1h0M736.7 472.5h0M737.8 457.6h0M738.9 457.2h0M740.0 458.1h0M741.2 457.0h0M742.3 464.1h0M743.4 461.9h0M744.6 458.0h0M745.7 459.9h0M746.8 436.4h0M748.0 471.5h0M749.1 458.8h0M750.2 455.7h0M751.4 456.1h0M752.5 460.2h0M753.6 472.2h0M754.8 455.2h0M755.9 463.1h0M757.0 475.8h0M758.2 459.0h0M759.3 470.5h0M760.4 469.1h0M761.5 467.3h0M762.7 455.1h0M763.8 465.7h0M764.9 460.2h0M766.1 451.4h0M767.2 452.2h0M768.3 461.7h0M769.5 460.9h0M770.6 466.0h0M771.7 463.6h0M772.9 457.0h0M774.0 458.5h0M775.1 458.6h0M776.3 452.2h0M777.4 463.7h0M778.5 458.5h0M779.6 453.1h0M780.8 453.5h0M781.9 444.6h0M783.0 446.9h0M784.2 461.9h0M785.3 458.4h0M786.4 466.5h0M787.6 469.3h0M788.7 456.4h0M789.8 459.9h0M791.0 458.5h0M792.1 471.0h0M793.2 464.1h0M794.4 466.8h0M795.5 469.7h0M796.6 475.0h0M797.8 466.9h0M798.9 460.4h0M800.0 464.3h0M801.1 469.4h0M802.3 464.7h0M803.4 458.4h0M804.5 475.7h0M805.7 463.3h0M806.8 457.5h0M807.9 457.0h0M809.1 451.4h0M810.2 455.2h0M811.3 459.5h0M812.5 460.0h0M813.6 458.7h0M814.7 466.5h0M815.9 463.1h0M817.0 459.5h0M818.1 453.6h0M819.2 465.4h0M820.4 463.5h0M821.5 462.7h0M822.6 455.6h0M823.8 462.7h0M824.9 454.1h0M826.0 469.6h0M827.2 465.1h0M828.3 465.1h0M829.4 461.1h0M830.6 460.2h0M831.7 474.1h0M832.8 469.2h0M834.0 463.4h0M835.1 467.3h0M836.2 472.0h0M837.4 455.5h0M838.5 458.6h0M839.6 459.1h0M840.7 463.4h0M841.9 456.9h0M843.0 463.5h0M844.1 456.6h0M845.3 471.5h0M846.4 469.9h0M847.5 463.2h0M848.7 466.7h0M849.8 459.4h0M850.9 460.5h0M852.1 464.9h0M853.2 459.7h0M854.3 462.9h0M855.5 457.3h0M856.6 466.3h0M857.7 467.8h0M858.9 460.1h0M860.0 454.9h0M861.1 457.1h0M862.2 468.2h0M863.4 467.3h0M864.5 456.5h0M865.6 464.5h0M866.8 469.9h0M867.9 461.7h0M869.0 460.2h0M870.2 468.2h0M871.3 473.9h0M872.4 474.4h0M873.6 461.7h0M874.7 472.2h0M875.8 467.7h0M877.0 464.2h0M878.1 462.9h0M879.2 467.6h0M880.3 463.0h0M881.5 471.3h0M882.6 469.0h0M883.7 473.2h0M884.9 457.8h0M886.0 464.7h0M887.1 468.9h0M888.3 465.2h0M889.4 463.8h0M890.5 458.6h0M891.7 474.1h0M892.8 470.8h0M893.9 465.8h0M895.1 448.9h0M896.2 458.6h0M897.3 466.9h0M898.5 462.3h0M899.6 455.3h0M900.7 469.8h0M901.8 470.9h0M903.0 460.9h0M904.1 463.7h0M905.2 463.3h0M906.4 470.0h0M907.5 455.8h0M908.6 455.9h0M909.8 461.7h0M910.9 460.7h0M912.0 476.5h0M913.2 458.6h0M914.3 464.1h0M915.4 459.7h0M916.6 459.8h0M917.7 468.6h0M918.8 474.7h0M919.9 462.0h0M921.1 468.5h0M922.2 466.9h0M923.3 468.2h0M924.5 464.6h0M925.6 478.9h0M926.7 459.5h0M927.9 464.3h0M929.0 459.0h0"/>
<polyline class="l" stroke="#b40000" points="108.7,490.9 109.8,492.4 111.0,492.2 112.1,495.4 113.2,492.4 114.4,495.0 115.5,491.6 116.6,491.5 117.8,492.2 118.9,488.1 120.0,491.1 121.1,490.9 122.3,491.8 123.4,492.5 124.5,490.1 125.7,489.8 126.8,494.8 127.9,489.9 129.1,491.0 130.2,490.0 131.3,491.1 132.5,494.7 133.6,494.5 134.7,488.1 135.9,491.5 137.0,495.1 138.1,491.2 139.2,492.8 140.4,496.0 141.5,496.1 142.6,495.5 143.8,491.3 144.9,492.0 146.0,492.5 147.2,491.3 148.3,490.5 149.4,496.1 150.6,492.6 151.7,493.8 152.8,494.7 154.0,493.1 155.1,492.1 156.2,492.5 157.4,495.3 158.5,493.0 159.6,487.0 160.7,494.4 161.9,495.9 163.0,491.1 164.1,490.3 165.3,490.6 166.4,458.0 167.5,489.3 168.7,429.7 169.8,494.6 170.9,493.3 172.1,492.0 173.2,489.9 174.3,490.1 175.5,491.7 176.6,489.3 177.7,491.5 178.8,489.3 180.0,495.3 181.1,495.8 182.2,489.6 183.4,495.3 184.5,492.4 185.6,491.9 186.8,492.9 187.9,492.8 189.0,487.8 190.2,496.1 191.3,489.1 192.4,485.3 193.6,491.5 194.7,491.6 195.8,489.5 197.0,486.4 198.1,494.8 199.2,491.3 200.3,492.0 201.5,489.7 202.6,490.7 203.7,489.1 204.9,492.1 206.0,490.6 207.1,492.5 208.3,492.4 209.4,490.7 210.5,490.6 211.7,493.5 212.8,485.2 213.9,490.1 215.1,493.7 216.2,486.1 217.3,491.5 218.5,487.6 219.6,489.0 220.7,488.1 221.8,488.2 223.0,490.3 224.1,488.3 225.2,482.0 226.4,495.1 227.5,487.8 228.6,486.5 229.8,491.0 230.9,491.9 232.0,480.6 233.2,488.4 234.3,480.5 235.4,485.3 236.6,486.6 237.7,485.2 238.8,484.6 239.9,482.7 241.1,485.0 242.2,485.8 243.3,485.6 244.5,481.6 245.6,483.2 246.7,489.1 247.9,487.8 249.0,484.5 250.1,487.5 251.3,486.6 252.4,488.4 253.5,486.0 254.7,483.6 255.8,481.6 256.9,484.7 258.1,477.8 259.2,484.8 260.3,473.9 261.4,481.1 262.6,482.8 263.7,486.1 264.8,493.7 266.0,485.0 267.1,483.9 268.2,478.2 269.4,489.0 270.5,478.3 271.6,485.3 272.8,482.2 273.9,492.8 275.0,484.1 276.2,485.7 277.3,482.4 278.4,484.3 279.5,488.3 280.7,481.6 281.8,482.4 282.9,482.7 284.1,481.4 285.2,481.2 286.3,484.7 287.5,489.0 288.6,489.1 289.7,480.4 290.9,482.5 292.0,484.4 293.1,486.1 294.3,484.6 295.4,484.7 296.5,485.8 297.7,487.0 298.8,478.0 299.9,484.1 301.0,486.8 302.2,489.0 303.3,487.3 304.4,482.9 305.6,482.9 306.7,486.0 307.8,485.3 309.0,486.5 310.1,489.1 311.2,481.8 312.4,484.7 313.5,478.4 314.6,488.3 315.8,486.6 316.9,483.6 318.0,487.1 319.1,490.6 320.3,489.4 321.4,486.3 322.5,485.7 323.7,487.1 324.8,483.9 325.9,484.0 327.1,486.1 328.2,487.1 329.3,488.0 330.5,485.8 331.6,484.8 332.7,487.4 333.9,486.4 335.0,488.7 336.1,491.9 337.3,490.8 338.4,485.9 339.5,486.9 340.6,429.0 341.8,488.1 342.9,486.0 344.0,484.9 345.2,485.9 346.3,490.2 347.4,489.2 348.6,488.4 349.7,491.4 350.8,487.7 352.0,486.4 353.1,490.3 354.2,484.2 355.4,490.0 356.5,489.9 357.6,490.0 358.8,491.3 359.9,488.6 361.0,489.7 362.1,485.9 363.3,488.5 364.4,488.7 365.5,490.5 366.7,493.3 367.8,490.4 368.9,492.2 370.1,488.2 371.2,490.5 372.3,486.9 373.5,489.0 374.6,455.8 375.7,490.2 376.9,490.3 378.0,489.5 379.1,489.0 380.2,492.4 381.4,490.1 382.5,486.0 383.6,491.4 384.8,491.8 385.9,492.7 387.0,494.1 388.2,489.3 389.3,491.4 390.4,491.1 391.6,488.4 392.7,487.3 393.8,493.4 395.0,490.1 396.1,490.9 397.2,491.4 398.4,491.3 399.5,492.2 400.6,489.6 401.7,491.2 402.9,491.7 404.0,490.2 405.1,490.8 406.3,491.5 407.4,491.8 408.5,489.4 409.7,491.5 410.8,492.5 411.9,493.7 413.1,492.9 414.2,494.1 415.3,492.2 416.5,491.9 417.6,495.7 418.7,492.3 419.8,491.3 421.0,492.1 422.1,494.0 423.2,490.3 424.4,493.6 425.5,494.4 426.6,494.2 427.8,492.5 428.9,490.8 430.0,490.5 431.2,492.1 432.3,494.4 433.4,468.4 434.6,494.0 435.7,492.8 436.8,495.4 438.0,492.3 439.1,491.5 440.2,492.8 441.3,491.8 442.5,494.1 443.6,494.9 444.7,493.6 445.9,490.7 447.0,490.9 448.1,493.3 449.3,490.6 450.4,493.1 451.5,490.1 452.7,491.8 453.8,493.4 454.9,491.3 456.1,493.9 457.2,494.2 458.3,495.0 459.4,492.3 460.6,492.8 461.7,492.8 462.8,493.4 464.0,490.4 465.1,493.4 466.2,493.9 467.4,490.7 468.5,490.4 469.6,492.2 470.8,495.6 471.9,493.8 473.0,491.8 474.2,492.8 475.3,490.3 476.4,495.0 477.6,491.7 478.7,493.8 479.8,490.7 480.9,493.0 482.1,491.2 483.2,493.9 484.3,495.2 485.5,494.7 486.6,493.9 487.7,494.6 488.9,490.9 490.0,466.9 491.1,492.5 492.3,494.6 493.4,493.1 494.5,494.1 495.7,490.6 496.8,492.4 497.9,476.6 499.0,493.6 500.2,496.1 501.3,494.2 502.4,494.8 503.6,492.4 504.7,492.8 505.8,494.3 507.0,493.6 508.1,490.4 509.2,494.6 510.4,494.5 511.5,493.4 512.6,494.1 513.8,493.7 514.9,492.1 516.0,490.1 517.2,495.9 518.3,493.0 519.4,492.9 520.5,493.1 521.7,493.3 522.8,493.5 523.9,491.3 525.1,493.7 526.2,493.2 527.3,493.0 528.5,492.8 529.6,493.3 530.7,491.3 531.9,493.0 533.0,492.7 534.1,493.1 535.3,494.6 536.4,494.3 537.5,494.7 538.7,492.7 539.8,494.1 540.9,494.7 542.0,492.6 543.2,492.1 544.3,495.9 545.4,490.2 546.6,492.9 547.7,493.2 548.8,491.2 550.0,492.9 551.1,494.0 552.2,489.4 553.4,494.7 554.5,493.1 555.6,491.6 556.8,494.7 557.9,493.1 559.0,492.3 560.1,489.0 561.3,494.4 562.4,493.1 563.5,491.9 564.7,492.8 565.8,494.9 566.9,492.3 568.1,492.8 569.2,492.3 570.3,491.1 571.5,491.3 572.6,492.3 573.7,492.5 574.9,494.8 576.0,493.2 577.1,492.6 578.3,493.6 579.4,492.8 580.5,494.3 581.6,490.5 582.8,489.5 583.9,493.6 585.0,492.3 586.2,493.4 587.3,490.9 588.4,492.3 589.6,492.9 590.7,493.3 591.8,492.8 593.0,494.6 594.1,491.9 595.2,494.1 596.4,492.1 597.5,492.8 598.6,491.2 599.7,493.0 600.9,491.3 602.0,494.4 603.1,491.8 604.3,493.1 605.4,492.4 606.5,492.5 607.7,491.0 608.8,495.8 609.9,491.9 611.1,494.8 612.2,490.3 613.3,495.5 614.5,493.8 615.6,494.8 616.7,489.4 617.9,494.1 619.0,491.7 620.1,492.7 621.2,494.8 622.4,492.3 623.5,490.5 624.6,491.9 625.8,489.8 626.9,492.1 628.0,491.4 629.2,492.1 630.3,490.6 631.4,487.5 632.6,490.4 633.7,490.7 634.8,492.3 636.0,492.6 637.1,487.8 638.2,493.2 639.3,492.8 640.5,472.1 641.6,491.7 642.7,486.2 643.9,496.1 645.0,489.7 646.1,488.9 647.3,493.2 648.4,492.1 649.5,489.4 650.7,486.3 651.8,492.7 652.9,494.4 654.1,487.8 655.2,486.3 656.3,491.2 657.5,496.1 658.6,486.2 659.7,490.7 660.8,487.0 662.0,490.2 663.1,491.1 664.2,491.3 665.4,485.7 666.5,485.7 667.6,496.1 668.8,492.7 669.9,484.4 671.0,491.0 672.2,494.0 673.3,489.7 674.4,490.1 675.6,490.0 676.7,491.2 677.8,490.6 678.9,491.1 680.1,488.4 681.2,492.2 682.3,490.5 683.5,489.9 684.6,485.1 685.7,488.2 686.9,489.7 688.0,487.6 689.1,488.0 690.3,485.7 691.4,487.6 692.5,483.5 693.7,485.0 694.8,489.5 695.9,490.7 697.1,486.5 698.2,487.8 699.3,489.7 700.4,494.2 701.6,495.3 702.7,488.4 703.8,487.1 705.0,487.0 706.1,493.6 707.2,486.3 708.4,472.9 709.5,488.4 710.6,488.3 711.8,492.2 712.9,491.5 714.0,484.8 715.2,492.6 716.3,495.3 717.4,488.4 718.6,489.6 719.7,487.0 720.8,488.7 721.9,491.8 723.1,488.8 724.2,491.1 725.3,488.1 726.5,489.0 727.6,492.9 728.7,490.0 729.9,489.8 731.0,491.2 732.1,488.1 733.3,486.4 734.4,492.2 735.5,492.4 736.7,496.1 737.8,492.5 738.9,493.4 740.0,496.1 741.2,492.6 742.3,492.3 743.4,494.6 744.6,493.9 745.7,494.8 746.8,492.2 748.0,495.6 749.1,493.8 750.2,490.5 751.4,493.3 752.5,492.7 753.6,493.6 754.8,495.1 755.9,493.4 757.0,492.8 758.2,494.9 759.3,492.9 760.4,491.5 761.5,491.8 762.7,495.7 763.8,494.8 764.9,495.8 766.1,491.8 767.2,492.5 768.3,492.3 769.5,494.7 770.6,495.1 771.7,493.3 772.9,493.2 774.0,494.7 775.1,493.2 776.3,492.4 777.4,493.1 778.5,494.9 779.6,496.1 780.8,493.8 781.9,493.2 783.0,493.8 784.2,494.0 785.3,494.4 786.4,492.3 787.6,493.5 788.7,493.2 789.8,494.9 791.0,455.0 792.1,493.2 793.2,494.9 794.4,495.3 795.5,493.9 796.6,491.6 797.8,493.1 798.9,491.2 800.0,493.6 801.1,493.9 802.3,495.5 803.4,494.3 804.5,491.3 805.7,492.9 806.8,492.3 807.9,492.4 809.1,493.4 810.2,493.7 811.3,493.3 812.5,492.4 813.6,492.8 814.7,492.7 815.9,493.2 817.0,494.6 818.1,493.8 819.2,494.8 820.4,492.0 821.5,496.1 822.6,493.8 823.8,489.9 824.9,494.0 826.0,495.1 827.2,493.5 828.3,491.5 829.4,493.7 830.6,492.5 831.7,493.3 832.8,494.0 834.0,488.8 835.1,493.4 836.2,494.3 837.4,494.2 838.5,492.9 839.6,492.9 840.7,492.3 841.9,493.3 843.0,495.6 844.1,492.7 845.3,493.9 846.4,493.9 847.5,495.7 848.7,494.3 849.8,494.6 850.9,493.5 852.1,495.6 853.2,493.4 854.3,493.3 855.5,495.2 856.6,494.4 857.7,494.8 858.9,492.1 860.0,496.1 861.1,494.0 862.2,496.0 863.4,494.1 864.5,492.2 865.6,494.4 866.8,493.3 867.9,494.8 869.0,455.0 870.2,492.1 871.3,491.8 872.4,495.5 873.6,495.1 874.7,491.9 875.8,493.8 877.0,493.9 878.1,493.0 879.2,495.4 880.3,492.4 881.5,493.5 882.6,492.8 883.7,494.5 884.9,492.8 886.0,494.6 887.1,492.1 888.3,491.8 889.4,492.2 890.5,492.8 891.7,492.6 892.8,496.1 893.9,492.3 895.1,493.9 896.2,493.4 897.3,494.0 898.5,495.6 899.6,494.3 900.7,492.6 901.8,491.4 903.0,494.5 904.1,494.9 905.2,491.4 906.4,494.9 907.5,490.5 908.6,493.5 909.8,494.9 910.9,492.1 912.0,491.0 913.2,495.7 914.3,491.2 915.4,494.0 916.6,491.3 917.7,494.1 918.8,495.9 919.9,492.8 921.1,492.2 922.2,490.4 923.3,491.0 924.5,492.5 925.6,493.9 926.7,494.3 927.9,494.0 929.0,494.8"/>
<path class="d" stroke="#b40000" d="M108.7 490.9h0M109.8 492.4h0M111.0 492.2h0M112.1 495.4h0M113.2 492.4h0M114.4 495.0h0M115.5 491.6h0M116.6 491.5h0M117.8 492.2h0M118.9 488.1h0M120.0 491.1h0M121.1 490.9h0M122.3 491.8h0M123.4 492.5h0M124.5 490.1h0M125.7 489.8h0M126.8 494.8h0M127.9 489.9h0M129.1 491.0h0M130.2 490.0h0M131.3 491.1h0M132.5 494.7h0M133.6 494.5h0M134.7 488.1h0M135.9 491.5h0M137.0 495.1h0M138.1 491.2h0M139.2 492.8h0M140.4 496.0h0M141.5 496.1h0M142.6 495.5h0M143.8 491.3h0M144.9 492.0h0M146.0 492.5h0M147.2 491.3h0M148.3 490.5h0M149.4 496.1h0M150.6 492.6h0M151.7 493.8h0M152.8 494.7h0M154.0 493.1h0M155.1 492.1h0M156.2 492.5h0M157.4 495.3h0M158.5 493.0h0M159.6 487.0h0M160.7 494.4h0M161.9 495.9h0M163.0 491.1h0M164.1 490.3h0M165.3 490.6h0M166.4 458.0h0M167.5 489.3h0M168.7 429.7h0M169.8 494.6h0M170.9 493.3h0M172.1 492.0h0M173.2 489.9h0M174.3 490.1h0M175.5 491.7h0M176.6 489.3h0M177.7 491.5h0M178.8 489.3h0M180.0 495.3h0M181.1 495.8h0M182.2 489.6h0M183.4 495.3h0M184.5 492.4h0M185.6 491.9h0M186.8 492.9h0M187.9 492.8h0M189.0 487.8h0M190.2 496.1h0M191.3 489.1h0M192.4 485.3h0M193.6 491.5h0M194.7 491.6h0M195.8 489.5h0M197.0 486.4h0M198.1 494.8h0M199.2 491.3h0M200.3 492.0h0M201.5 489.7h0M202.6 490.7h0M203.7 489.1h0M204.9 492.1h0M206.0 490.6h0M207.1 492.5h0M208.3 492.4h0M209.4 490.7h0M210.5 490.6h0M211.7 493.5h0M212.8 485.2h0M213.9 490.1h0M215.1 493.7h0M216.2 486.1h0M217.3 491.5h0M218.5 487.6h0M219.6 489.0h0M220.7 488.1h0M221.8 488.2h0M223.0 490.3h0M224.1 488.3h0M225.2 482.0h0M226.4 495.1h0M227.5 487.8h0M228.6 486.5h0M229.8 491.0h0M230.9 491.9h0M232.0 480.6h0M233.2 488.4h0M234.3 480.5h0M235.4 485.3h0M236.6 486.6h0M237.7 485.2h0M238.8 484.6h0M239.9 482.7h0M241.1 485.0h0M242.2 485.8h0M243.3 485.6h0M244.5 481.6h0M245.6 483.2h0M246.7 489.1h0M247.9 487.8h0M249.0 484.5h0M250.1 487.5h0M251.3 486.6h0M252.4 488.4h0M253.5 486.0h0M254.7 483.6h0M255.8 481.6h0M256.9 484.7h0M258.1 477.8h0M259.2 484.8h0M260.3 473.9h0M261.4 481.1h0M262.6 482.8h0M263.7 486.1h0M264.8 493.7h0M266.0 485.0h0M267.1 483.9h0M268.2 478.2h0M269.4 489.0h0M270.5 478.3h0M271.6 485.3h0M272.8 482.2h0M273.9 492.8h0M275.0 484.1h0M276.2 485.7h0M277.3 482.4h0M278.4 484.3h0M279.5 488.3h0M280.7 481.6h0M281.8 482.4h0M282.9 482.7h0M284.1 481.4h0M285.2 481.2h0M286.3 484.7h0M287.5 489.0h0M288.6 489.1h0M289.7 480.4h0M290.9 482.5h0M292.0 484.4h0M293.1 486.1h0M294.3 484.6h0M295.4 484.7h0M296.5 485.8h0M297.7 487.0h0M298.8 478.0h0M299.9 484.1h0M301.0 486.8h0M302.2 489.0h0M303.3 487.3h0M304.4 482.9h0M305.6 482.9h0M306.7 486.0h0M307.8 485.3h0M309.0 486.5h0M310.1 489.1h0M311.2 481.8h0M312.4 484.7h0M313.5 478.4h0M314.6 488.3h0M315.8 486.6h0M316.9 483.6h0M318.0 487.1h0M319.1 490.6h0M320.3 489.4h0M321.4 486.3h0M322.5 485.7h0M323.7 487.1h0M324.8 483.9h0M325.9 484.0h0M327.1 486.1h0M328.2 487.1h0M329.3 488.0h0M330.5 485.8h0M331.6 484.8h0M332.7 487.4h0M333.9 486.4h0M335.0 488.7h0M336.1 491.9h0M337.3 490.8h0M338.4 485.9h0M339.5 486.9h0M340.6 429.0h0M341.8 488.1h0M342.9 486.0h0M344.0 484.9h0M345.2 485.9h0M346.3 490.2h0M347.4 489.2h0M348.6 488.4h0M349.7 491.4h0M350.8 487.7h0M352.0 486.4h0M353.1 490.3h0M354.2 484.2h0M355.4 490.0h0M356.5 489.9h0M357.6 490.0h0M358.8 491.3h0M359.9 488.6h0M361.0 489.7h0M362.1 485.9h0M363.3 488.5h0M364.4 488.7h0M365.5 490.5h0M366.7 493.3h0M367.8 490.4h0M368.9 492.2h0M370.1 488.2h0M371.2 490.5h0M372.3 486.9h0M373.5 489.0h0M374.6 455.8h0M375.7 490.2h0M376.9 490.3h0M378.0 489.5h0M379.1 489.0h0M380.2 492.4h0M381.4 490.1h0M382.5 486.0h0M383.6 491.4h0M384.8 491.8h0M385.9 492.7h0M387.0 494.1h0M388.2 489.3h0M389.3 491.4h0M390.4 491.1h0M391.6 488.4h0M392.7 487.3h0M393.8 493.4h0M395.0 490.1h0M396.1 490.9h0M397.2 491.4h0M398.4 491.3h0M399.5 492.2h0M400.6 489.6h0M401.7 491.2h0M402.9 491.7h0M404.0 490.2h0M405.1 490.8h0M406.3 491.5h0M407.4 491.8h0M408.5 489.4h0M409.7 491.5h0M410.8 492.5h0M411.9 493.7h0M413.1 492.9h0M414.2 494.1h0M415.3 492.2h0M416.5 491.9h0M417.6 495.7h0M418.7 492.3h0M419.8 491.3h0M421.0 492.1h0M422.1 494.0h0M423.2 490.3h0M424.4 493.6h0M425.5 494.4h0M426.6 494.2h0M427.8 492.5h0M428.9 490.8h0M430.0 490.5h0M431.2 492.1h0M432.3 494.4h0M433.4 468.4h0M434.6 494.0h0M435.7 492.8h0M436.8 495.4h0M438.0 492.3h0M439.1 491.5h0M440.2 492.8h0M441.3 491.8h0M442.5 494.1h0M443.6 494.9h0M444.7 493.6h0M445.9 490.7h0M447.0 490.9h0M448.1 493.3h0M449.3 490.6h0M450.4 493.1h0M451.5 490.1h0M452.7 491.8h0M453.8 493.4h0M454.9 491.3h0M456.1 493.9h0M457.2 494.2h0M458.3 495.0h0M459.4 492.3h0M460.6 492.8h0M461.7 492.8h0M462.8 493.4h0M464.0 490.4h0M465.1 493.4h0M466.2 493.9h0M467.4 490.7h0M468.5 490.4h0M469.6 492.2h0M470.8 495.6h0M471.9 493.8h0M473.0 491.8h0M474.2 492.8h0M475.3 490.3h0M476.4 495.0h0M477.6 491.7h0M478.7 493.8h0M479.8 490.7h0M480.9 493.0h0M482.1 491.2h0M483.2 493.9h0M484.3 495.2h0M485.5 494.7h0M486.6 493.9h0M487.7 494.6h0M488.9 490.9h0M490.0 466.9h0M491.1 492.5h0M492.3 494.6h0M493.4 493.1h0M494.5 494.1h0M495.7 490.6h0M496.8 492.4h0M497.9 476.6h0M499.0 493.6h0M500.2 496.1h0M501.3 494.2h0M502.4 494.8h0M503.6 492.4h0M504.7 492.8h0M505.8 494.3h0M507.0 493.6h0M508.1 490.4h0M509.2 494.6h0M510.4 494.5h0M511.5 493.4h0M512.6 494.1h0M513.8 493.7h0M514.9 492.1h0M516.0 490.1h0M517.2 495.9h0M518.3 493.0h0M519.4 492.9h0M520.5 493.1h0M521.7 493.3h0M522.8 493.5h0M523.9 491.3h0M525.1 493.7h0M526.2 493.2h0M527.3 493.0h0M528.5 492.8h0M529.6 493.3h0M530.7 491.3h0M531.9 493.0h0M533.0 492.7h0M534.1 493.1h0M535.3 494.6h0M536.4 494.3h0M537.5 494.7h0M538.7 492.7h0M539.8 494.1h0M540.9 494.7h0M542.0 492.6h0M543.2 492.1h0M544.3 495.9h0M545.4 490.2h0M546.6 492.9h0M547.7 493.2h0M548.8 491.2h0M550.0 492.9h0M551.1 494.0h0M552.2 489.4h0M553.4 494.7h0M554.5 493.1h0M555.6 491.6h0M556.8 494.7h0M557.9 493.1h0M559.0 492.3h0M560.1 489.0h0M561.3 494.4h0M562.4 493.1h0M563.5 491.9h0M564.7 492.8h0M565.8 494.9h0M566.9 492.3h0M568.1 492.8h0M569.2 492.3h0M570.3 491.1h0M571.5 491.3h0M572.6 492.3h0M573.7 492.5h0M574.9 494.8h0M576.0 493.2h0M577.1 492.6h0M578.3 493.6h0M579.4 492.8h0M580.5 494.3h0M581.6 490.5h0M582.8 489.5h0M583.9 493.6h0M585.0 492.3h0M586.2 493.4h0M587.3 490.9h0M588.4 492.3h0M589.6 492.9h0M590.7 493.3h0M591.8 492.8h0M593.0 494.6h0M594.1 491.9h0M595.2 494.1h0M596.4 492.1h0M597.5 492.8h0M598.6 491.2h0M599.7 493.0h0M600.9 491.3h0M602.0 494.4h0M603.1 491.8h0M604.3 493.1h0M605.4 492.4h0M606.5 492.5h0M607.7 491.0h0M608.8 495.8h0M609.9 491.9h0M611.1 494.8h0M612.2 490.3h0M613.3 495.5h0M614.5 493.8h0M615.6 494.8h0M616.7 489.4h0M617.9 494.1h0M619.0 491.7h0M620.1 492.7h0M621.2 494.8h0M622.4 492.3h0M623.5 490.5h0M624.6 491.9h0M625.8 489.8h0M626.9 492.1h0M628.0 491.4h0M629.2 492.1h0M630.3 490.6h0M631.4 487.5h0M632.6 490.4h0M633.7 490.7h0M634.8 492.3h0M636.0 492.6h0M637.1 487.8h0M638.2 493.2h0M639.3 492.8h0M640.5 472.1h0M641.6 491.7h0M642.7 486.2h0M643.9 496.1h0M645.0 489.7h0M646.1 488.9h0M647.3 493.2h0M648.4 492.1h0M649.5 489.4h0M650.7 486.3h0M651.8 492.7h0M652.9 494.4h0M654.1 487.8h0M655.2 486.3h0M656.3 491.2h0M657.5 496.1h0M658.6 486.2h0M659.7 490.7h0M660.8 487.0h0M662.0 490.2h0M663.1 491.1h0M664.2 491.3h0M665.4 485.7h0M666.5 485.7h0M667.6 496.1h0M668.8 492.7h0M669.9 484.4h0M671.0 491.0h0M672.2 494.0h0M673.3 489.7h0M674.4 490.1h0M675.6 490.0h0M676.7 491.2h0M677.8 490.6h0M678.9 491.1h0M680.1 488.4h0M681.2 492.2h0M682.3 490.5h0M683.5 489.9h0M684.6 485.1h0M685.7 488.2h0M686.9 489.7h0M688.0 487.6h0M689.1 488.0h0M690.3 485.7h0M691.4 487.6h0M692.5 483.5h0M693.7 485.0h0M694.8 489.5h0M695.9 490.7h0M697.1 486.5h0M698.2 487.8h0M699.3 489.7h0M700.4 494.2h0M701.6 495.3h0M702.7 488.4h0M703.8 487.1h0M705.0 487.0h0M706.1 493.6h0M707.2 486.3h0M708.4 472.9h0M709.5 488.4h0M710.6 488.3h0M711.8 492.2h0M712.9 491.5h0M714.0 484.8h0M715.2 492.6h0M716.3 495.3h0M717.4 488.4h0M718.6 489.6h0M719.7 487.0h0M720.8 488.7h0M721.9 491.8h0M723.1 488.8h0M724.2 491.1h0M725.3 488.1h0M726.5 489.0h0M727.6 492.9h0M728.7 490.0h0M729.9 489.8h0M731.0 491.2h0M732.1 488.1h0M733.3 486.4h0M734.4 492.2h0M735.5 492.4h0M736.7 496.1h0M737.8 492.5h0M738.9 493.4h0M740.0 496.1h0M741.2 492.6h0M742.3 492.3h0M743.4 494.6h0M744.6 493.9h0M745.7 494.8h0M746.8 492.2h0M748.0 495.6h0M749.1 493.8h0M750.2 490.5h0M751.4 493.3h0M752.5 492.7h0M753.6 493.6h0M754.8 495.1h0M755.9 493.4h0M757.0 492.8h0M758.2 494.9h0M759.3 492.9h0M760.4 491.5h0M761.5 491.8h0M762.7 495.7h0M763.8 494.8h0M764.9 495.8h0M766.1 491.8h0M767.2 492.5h0M768.3 492.3h0M769.5 494.7h0M770.6 495.1h0M771.7 493.3h0M772.9 493.2h0M774.0 494.7h0M775.1 493.2h0M776.3 492.4h0M777.4 493.1h0M778.5 494.9h0M779.6 496.1h0M780.8 493.8h0M781.9 493.2h0M783.0 493.8h0M784.2 494.0h0M785.3 494.4h0M786.4 492.3h0M787.6 493.5h0M788.7 493.2h0M789.8 494.9h0M791.0 455.0h0M792.1 493.2h0M793.2 494.9h0M794.4 495.3h0M795.5 493.9h0M796.6 491.6h0M797.8 493.1h0M798.9 491.2h0M800.0 493.6h0M801.1 493.9h0M802.3 495.5h0M803.4 494.3h0M804.5 491.3h0M805.7 492.9h0M806.8 492.3h0M807.9 492.4h0M809.1 493.4h0M810.2 493.7h0M811.3 493.3h0M812.5 492.4h0M813.6 492.8h0M814.7 492.7h0M815.9 493.2h0M817.0 494.6h0M818.1 493.8h0M819.2 494.8h0M820.4 492.0h0M821.5 496.1h0M822.6 493.8h0M823.8 489.9h0M824.9 494.0h0M826.0 495.1h0M827.2 493.5h0M828.3 491.5h0M829.4 493.7h0M830.6 492.5h0M831.7 493.3h0M832.8 494.0h0M834.0 488.8h0M835.1 493.4h0M836.2 494.3h0M837.4 494.2h0M838.5 492.9h0M839.6 492.9h0M840.7 492.3h0M841.9 493.3h0M843.0 495.6h0M844.1 492.7h0M845.3 493.9h0M846.4 493.9h0M847.5 495.7h0M848.7 494.3h0M849.8 494.6h0M850.9 493.5h0M852.1 495.6h0M853.2 493.4h0M854.3 493.3h0M855.5 495.2h0M856.6 494.4h0M857.7 494.8h0M858.9 492.1h0M860.0 496.1h0M861.1 494.0h0M862.2 496.0h0M863.4 494.1h0M864.5 492.2h0M865.6 494.4h0M866.8 493.3h0M867.9 494.8h0M869.0 455.0h0M870.2 492.1h0M871.3 491.8h0M872.4 495.5h0M873.6 495.1h0M874.7 491.9h0M875.8 493.8h0M877.0 493.9h0M878.1 493.0h0M879.2 495.4h0M880.3 492.4h0M881.5 493.5h0M882.6 492.8h0M883.7 494.5h0M884.9 492.8h0M886.0 494.6h0M887.1 492.1h0M888.3 491.8h0M889.4 492.2h0M890.5 492.8h0M891.7 492.6h0M892.8 496.1h0M893.9 492.3h0M895.1 493.9h0M896.2 493.4h0M897.3 494.0h0M898.5 495.6h0M899.6 494.3h0M900.7 492.6h0M901.8 491.4h0M903.0 494.5h0M904.1 494.9h0M905.2 491.4h0M906.4 494.9h0M907.5 490.5h0M908.6 493.5h0M909.8 494.9h0M910.9 492.1h0M912.0 491.0h0M913.2 495.7h0M914.3 491.2h0M915.4 494.0h0M916.6 491.3h0M917.7 494.1h0M918.8 495.9h0M919.9 492.8h0M921.1 492.2h0M922.2 490.4h0M923.3 491.0h0M924.5 492.5h0M925.6 493.9h0M926.7 494.3h0M927.9 494.0h0M929.0 494.8h0"/>
<polyline class="l" stroke="#000096" points="108.7,489.6 109.8,491.9 111.0,489.7 112.1,490.0 113.2,489.7 114.4,488.0 115.5,487.6 116.6,489.3 117.8,489.6 118.9,487.0 120.0,488.6 121.1,485.5 122.3,483.3 123.4,488.1 124.5,489.9 125.7,491.0 126.8,491.8 127.9,492.7 129.1,492.6 130.2,491.0 131.3,491.8 132.5,489.3 133.6,490.8 134.7,490.0 135.9,492.6 137.0,486.8 138.1,488.4 139.2,484.4 140.4,487.2 141.5,485.4 142.6,488.9 143.8,486.0 144.9,482.4 146.0,491.5 147.2,485.6 148.3,484.0 149.4,486.4 150.6,485.8 151.7,483.5 152.8,489.0 154.0,486.6 155.1,489.8 156.2,490.0 157.4,490.1 158.5,489.8 159.6,489.0 160.7,489.5 161.9,493.4 163.0,484.8 164.1,486.0 165.3,486.6 166.4,472.9 167.5,433.5 168.7,485.0 169.8,485.8 170.9,492.5 172.1,487.0 173.2,481.8 174.3,493.4 175.5,487.0 176.6,488.5 177.7,489.3 178.8,484.5 180.0,491.2 181.1,487.6 182.2,483.5 183.4,488.1 184.5,488.9 185.6,488.0 186.8,489.1 187.9,469.9 189.0,489.4 190.2,485.1 191.3,490.8 192.4,485.4 193.6,487.8 194.7,493.4 195.8,488.7 197.0,490.5 198.1,488.5 199.2,483.1 200.3,490.1 201.5,489.1 202.6,481.8 203.7,485.4 204.9,481.5 206.0,483.9 207.1,487.9 208.3,486.2 209.4,482.1 210.5,483.5 211.7,485.7 212.8,485.8 213.9,486.0 215.1,487.1 216.2,480.8 217.3,486.1 218.5,490.3 219.6,488.1 220.7,483.7 221.8,483.4 223.0,484.3 224.1,486.1 225.2,482.8 226.4,489.0 227.5,488.4 228.6,481.0 229.8,484.9 230.9,481.4 232.0,477.4 233.2,479.3 234.3,481.4 235.4,471.9 236.6,478.2 237.7,482.1 238.8,477.4 239.9,478.9 241.1,485.0 242.2,479.6 243.3,480.9 244.5,490.2 245.6,480.6 246.7,480.2 247.9,480.3 249.0,487.5 250.1,479.4 251.3,477.2 252.4,476.7 253.5,484.0 254.7,474.7 255.8,485.6 256.9,480.6 258.1,471.3 259.2,483.5 260.3,482.7 261.4,473.1 262.6,423.8 263.7,481.8 264.8,478.4 266.0,472.8 267.1,490.5 268.2,481.3 269.4,482.4 270.5,464.7 271.6,483.2 272.8,483.8 273.9,478.5 275.0,485.4 276.2,479.0 277.3,476.7 278.4,481.6 279.5,476.1 280.7,466.8 281.8,475.2 282.9,481.1 284.1,478.7 285.2,462.5 286.3,475.9 287.5,473.0 288.6,482.4 289.7,478.7 290.9,470.9 292.0,480.4 293.1,477.3 294.3,484.0 295.4,460.2 296.5,480.6 297.7,466.2 298.8,479.9 299.9,480.5 301.0,481.2 302.2,478.7 303.3,475.1 304.4,477.6 305.6,468.2 306.7,478.4 307.8,471.7 309.0,478.5 310.1,476.6 311.2,486.9 312.4,481.0 313.5,480.6 314.6,482.2 315.8,491.6 316.9,477.7 318.0,483.8 319.1,483.6 320.3,482.2 321.4,482.2 322.5,478.7 323.7,486.6 324.8,485.4 325.9,479.5 327.1,480.4 328.2,483.0 329.3,484.6 330.5,466.9 331.6,481.9 332.7,476.9 333.9,487.3 335.0,475.6 336.1,477.1 337.3,483.0 338.4,477.9 339.5,487.2 340.6,452.1 341.8,459.5 342.9,485.4 344.0,484.4 345.2,485.5 346.3,483.6 347.4,491.6 348.6,481.2 349.7,488.7 350.8,486.4 352.0,486.1 353.1,488.7 354.2,489.1 355.4,487.0 356.5,482.8 357.6,480.6 358.8,479.7 359.9,484.8 361.0,483.8 362.1,484.7 363.3,480.3 364.4,489.0 365.5,478.3 366.7,484.6 367.8,486.3 368.9,483.5 370.1,482.2 371.2,485.0 372.3,483.8 373.5,486.9 374.6,483.7 375.7,484.2 376.9,487.2 378.0,481.9 379.1,485.0 380.2,484.6 381.4,486.7 382.5,484.6 383.6,481.3 384.8,487.7 385.9,481.7 387.0,483.0 388.2,484.3 389.3,491.4 390.4,486.0 391.6,484.3 392.7,488.7 393.8,487.2 395.0,493.4 396.1,485.2 397.2,488.8 398.4,483.7 399.5,492.5 400.6,484.8 401.7,487.3 402.9,484.4 404.0,489.8 405.1,488.6 406.3,479.4 407.4,488.1 408.5,487.5 409.7,485.9 410.8,488.0 411.9,481.5 413.1,479.7 414.2,486.7 415.3,489.7 416.5,481.3 417.6,480.8 418.7,481.8 419.8,480.8 421.0,486.4 422.1,484.3 423.2,487.5 424.4,488.1 425.5,482.5 426.6,486.8 427.8,478.6 428.9,485.6 430.0,488.3 431.2,484.5 432.3,479.8 433.4,483.9 434.6,489.6 435.7,484.2 436.8,481.4 438.0,485.6 439.1,487.8 440.2,483.9 441.3,485.7 442.5,489.6 443.6,487.6 444.7,490.4 445.9,486.8 447.0,485.6 448.1,483.4 449.3,484.0 450.4,490.6 451.5,483.0 452.7,481.6 453.8,483.7 454.9,480.7 456.1,485.6 457.2,471.4 458.3,482.1 459.4,488.2 460.6,492.1 461.7,482.6 462.8,488.0 464.0,486.8 465.1,490.1 466.2,490.3 467.4,489.7 468.5,488.5 469.6,486.6 470.8,493.4 471.9,484.9 473.0,489.9 474.2,488.7 475.3,483.3 476.4,485.7 477.6,489.8 478.7,481.2 479.8,488.1 480.9,485.0 482.1,485.4 483.2,482.1 484.3,487.5 485.5,483.3 486.6,488.4 487.7,483.4 488.9,489.1 490.0,472.1 491.1,480.4 492.3,484.7 493.4,485.1 494.5,479.2 495.7,484.3 496.8,488.0 497.9,484.3 499.0,489.6 500.2,483.7 501.3,482.7 502.4,486.9 503.6,487.2 504.7,484.0 505.8,484.2 507.0,486.8 508.1,482.8 509.2,490.6 510.4,484.9 511.5,485.5 512.6,485.6 513.8,483.6 514.9,488.5 516.0,483.7 517.2,488.2 518.3,489.2 519.4,490.3 520.5,490.0 521.7,485.1 522.8,487.9 523.9,483.7 525.1,481.0 526.2,481.8 527.3,480.8 528.5,485.9 529.6,488.6 530.7,483.4 531.9,485.6 533.0,483.1 534.1,486.4 535.3,483.4 536.4,484.7 537.5,485.1 538.7,486.4 539.8,485.8 540.9,486.5 542.0,486.6 543.2,484.1 544.3,487.2 545.4,481.1 546.6,487.1 547.7,483.3 548.8,486.0 550.0,487.0 551.1,481.6 552.2,486.9 553.4,488.9 554.5,487.3 555.6,486.8 556.8,479.7 557.9,484.4 559.0,482.5 560.1,488.7 561.3,485.2 562.4,484.1 563.5,481.7 564.7,488.4 565.8,485.2 566.9,485.7 568.1,489.1 569.2,486.9 570.3,487.1 571.5,492.5 572.6,484.6 573.7,484.1 574.9,487.4 576.0,489.8 577.1,482.2 578.3,485.4 579.4,482.6 580.5,481.7 581.6,486.7 582.8,482.1 583.9,485.4 585.0,485.8 586.2,485.6 587.3,485.5 588.4,481.8 589.6,484.5 590.7,484.1 591.8,483.6 593.0,482.6 594.1,486.5 595.2,486.3 596.4,484.8 597.5,486.3 598.6,485.0 599.7,486.7 600.9,479.3 602.0,480.7 603.1,483.0 604.3,484.7 605.4,478.8 606.5,483.6 607.7,484.3 608.8,482.7 609.9,483.0 611.1,480.8 612.2,484.5 613.3,478.0 614.5,486.4 615.6,482.4 616.7,486.7 617.9,478.2 619.0,483.7 620.1,484.5 621.2,481.3 622.4,480.6 623.5,488.1 624.6,485.9 625.8,489.6 626.9,483.5 628.0,483.0 629.2,482.9 630.3,483.3 631.4,482.8 632.6,484.3 633.7,480.0 634.8,477.5 636.0,492.4 637.1,485.3 638.2,486.2 639.3,482.2 640.5,488.9 641.6,485.4 642.7,489.0 643.9,480.0 645.0,482.3 646.1,482.6 647.3,479.1 648.4,481.3 649.5,461.7 650.7,476.1 651.8,477.5 652.9,480.4 654.1,474.2 655.2,472.8 656.3,485.7 657.5,485.1 658.6,472.2 659.7,472.6 660.8,484.1 662.0,464.7 663.1,482.5 664.2,481.1 665.4,487.5 666.5,478.7 667.6,485.4 668.8,485.7 669.9,472.3 671.0,481.5 672.2,464.7 673.3,472.8 674.4,471.5 675.6,477.8 676.7,476.9 677.8,481.2 678.9,467.3 680.1,473.3 681.2,482.9 682.3,476.6 683.5,472.0 684.6,473.2 685.7,465.8 686.9,468.6 688.0,479.1 689.1,476.0 690.3,483.0 691.4,475.1 692.5,476.7 693.7,462.3 694.8,477.4 695.9,490.0 697.1,482.5 698.2,477.9 699.3,484.2 700.4,481.6 701.6,479.3 702.7,474.7 703.8,476.8 705.0,480.6 706.1,472.3 707.2,454.3 708.4,480.4 709.5,486.1 710.6,483.2 711.8,475.0 712.9,487.2 714.0,459.5 715.2,472.9 716.3,479.3 717.4,476.7 718.6,484.7 719.7,471.9 720.8,473.9 721.9,479.4 723.1,490.4 724.2,486.6 725.3,476.8 726.5,473.5 727.6,480.8 728.7,476.7 729.9,484.9 731.0,483.6 732.1,483.2 733.3,481.3 734.4,489.1 735.5,480.3 736.7,478.9 737.8,486.2 738.9,487.0 740.0,481.6 741.2,484.2 742.3,489.9 743.4,481.2 744.6,483.5 745.7,484.9 746.8,478.2 748.0,483.5 749.1,486.3 750.2,484.1 751.4,487.4 752.5,486.2 753.6,482.3 754.8,486.0 755.9,484.9 757.0,478.0 758.2,479.9 759.3,480.9 760.4,482.1 761.5,481.8 762.7,480.1 763.8,484.9 764.9,479.7 766.1,487.5 767.2,485.9 768.3,488.6 769.5,484.4 770.6,481.1 771.7,479.2 772.9,485.1 774.0,482.4 775.1,484.1 776.3,485.9 777.4,487.3 778.5,482.6 779.6,488.2 780.8,484.5 781.9,485.1 783.0,487.1 784.2,488.5 785.3,489.9 786.4,480.2 787.6,488.5 788.7,479.5 789.8,482.1 791.0,484.9 792.1,487.7 793.2,480.2 794.4,477.7 795.5,485.7 796.6,483.9 797.8,480.3 798.9,482.8 800.0,479.7 801.1,487.6 802.3,483.8 803.4,488.6 804.5,479.4 805.7,487.2 806.8,491.6 807.9,485.5 809.1,486.0 810.2,479.7 811.3,485.9 812.5,484.0 813.6,481.7 814.7,478.9 815.9,484.3 817.0,482.4 818.1,483.3 819.2,485.4 820.4,484.4 821.5,484.3 822.6,486.2 823.8,480.0 824.9,487.8 826.0,481.0 827.2,481.6 828.3,484.9 829.4,486.8 830.6,484.9 831.7,482.6 832.8,482.7 834.0,483.4 835.1,481.3 836.2,485.4 837.4,482.9 838.5,487.5 839.6,480.9 840.7,483.1 841.9,485.2 843.0,481.3 844.1,484.3 845.3,493.4 846.4,486.8 847.5,490.8 848.7,484.0 849.8,480.4 850.9,487.5 852.1,486.4 853.2,486.2 854.3,484.2 855.5,482.9 856.6,480.4 857.7,486.7 858.9,479.7 860.0,486.6 861.1,484.4 862.2,482.3 863.4,484.0 864.5,488.0 865.6,487.6 866.8,487.3 867.9,486.3 869.0,469.2 870.2,490.0 871.3,485.7 872.4,484.8 873.6,485.9 874.7,486.2 875.8,483.4 877.0,486.1 878.1,483.7 879.2,486.3 880.3,481.2 881.5,489.8 882.6,481.4 883.7,484.8 884.9,485.8 886.0,486.8 887.1,489.4 888.3,486.7 889.4,488.0 890.5,484.4 891.7,490.1 892.8,482.4 893.9,485.7 895.1,487.1 896.2,487.6 897.3,488.1 898.5,489.1 899.6,487.5 900.7,486.5 901.8,486.6 903.0,490.2 904.1,487.8 905.2,488.2 906.4,485.9 907.5,480.8 908.6,483.6 909.8,485.6 910.9,488.8 912.0,488.9 913.2,489.8 914.3,483.9 915.4,487.2 916.6,484.5 917.7,485.4 918.8,483.3 919.9,479.6 921.1,484.9 922.2,484.4 923.3,485.8 924.5,481.8 925.6,487.0 926.7,487.4 927.9,487.6 929.0,487.5"/>
<path class="d" stroke="#000096" d="M108.7 489.6h0M109.8 491.9h0M111.0 489.7h0M112.1 490.0h0M113.2 489.7h0M114.4 488.0h0M115.5 487.6h0M116.6 489.3h0M117.8 489.6h0M118.9 487.0h0M120.0 488.6h0M121.1 485.5h0M122.3 483.3h0M123.4 488.1h0M124.5 489.9h0M125.7 491.0h0M126.8 491.8h0M127.9 492.7h0M129.1 492.6h0M130.2 491.0h0M131.3 491.8h0M132.5 489.3h0M133.6 490.8h0M134.7 490.0h0M135.9 492.6h0M137.0 486.8h0M138.1 488.4h0M139.2 484.4h0M140.4 487.2h0M141.5 485.4h0M142.6 488.9h0M143.8 486.0h0M144.9 482.4h0M146.0 491.5h0M147.2 485.6h0M148.3 484.0h0M149.4 486.4h0M150.6 485.8h0M151.7 483.5h0M152.8 489.0h0M154.0 486.6h0M155.1 489.8h0M156.2 490.0h0M157.4 490.1h0M158.5 489.8h0M159.6 489.0h0M160.7 489.5h0M161.9 493.4h0M163.0 484.8h0M164.1 486.0h0M165.3 486.6h0M166.4 472.9h0M167.5 433.5h0M168.7 485.0h0M169.8 485.8h0M170.9 492.5h0M172.1 487.0h0M173.2 481.8h0M174.3 493.4h0M175.5 487.0h0M176.6 488.5h0M177.7 489.3h0M178.8 484.5h0M180.0 491.2h0M181.1 487.6h0M182.2 483.5h0M183.4 488.1h0M184.5 488.9h0M185.6 488.0h0M186.8 489.1h0M187.9 469.9h0M189.0 489.4h0M190.2 485.1h0M191.3 490.8h0M192.4 485.4h0M193.6 487.8h0M194.7 493.4h0M195.8 488.7h0M197.0 490.5h0M198.1 488.5h0M199.2 483.1h0M200.3 490.1h0M201.5 489.1h0M202.6 481.8h0M203.7 485.4h0M204.9 481.5h0M206.0 483.9h0M207.1 487.9h0M208.3 486.2h0M209.4 482.1h0M210.5 483.5h0M211.7 485.7h0M212.8 485.8h0M213.9 486.0h0M215.1 487.1h0M216.2 480.8h0M217.3 486.1h0M218.5 490.3h0M219.6 488.1h0M220.7 483.7h0M221.8 483.4h0M223.0 484.3h0M224.1 486.1h0M225.2 482.8h0M226.4 489.0h0M227.5 488.4h0M228.6 481.0h0M229.8 484.9h0M230.9 481.4h0M232.0 477.4h0M233.2 479.3h0M234.3 481.4h0M235.4 471.9h0M236.6 478.2h0M237.7 482.1h0M238.8 477.4h0M239.9 478.9h0M241.1 485.0h0M242.2 479.6h0M243.3 480.9h0M244.5 490.2h0M245.6 480.6h0M246.7 480.2h0M247.9 480.3h0M249.0 487.5h0M250.1 479.4h0M251.3 477.2h0M252.4 476.7h0M253.5 484.0h0M254.7 474.7h0M255.8 485.6h0M256.9 480.6h0M258.1 471.3h0M259.2 483.5h0M260.3 482.7h0M261.4 473.1h0M262.6 423.8h0M263.7 481.8h0M264.8 478.4h0M266.0 472.8h0M267.1 490.5h0M268.2 481.3h0M269.4 482.4h0M270.5 464.7h0M271.6 483.2h0M272.8 483.8h0M273.9 478.5h0M275.0 485.4h0M276.2 479.0h0M277.3 476.7h0M278.4 481.6h0M279.5 476.1h0M280.7 466.8h0M281.8 475.2h0M282.9 481.1h0M284.1 478.7h0M285.2 462.5h0M286.3 475.9h0M287.5 473.0h0M288.6 482.4h0M289.7 478.7h0M290.9 470.9h0M292.0 480.4h0M293.1 477.3h0M294.3 484.0h0M295.4 460.2h0M296.5 480.6h0M297.7 466.2h0M298.8 479.9h0M299.9 480.5h0M301.0 481.2h0M302.2 478.7h0M303.3 475.1h0M304.4 477.6h0M305.6 468.2h0M306.7 478.4h0M307.8 471.7h0M309.0 478.5h0M310.1 476.6h0M311.2 486.9h0M312.4 481.0h0M313.5 480.6h0M314.6 482.2h0M315.8 491.6h0M316.9 477.7h0M318.0 483.8h0M319.1 483.6h0M320.3 482.2h0M321.4 482.2h0M322.5 478.7h0M323.7 486.6h0M324.8 485.4h0M325.9 479.5h0M327.1 480.4h0M328.2 483.0h0M329.3 484.6h0M330.5 466.9h0M331.6 481.9h0M332.7 476.9h0M333.9 487.3h0M335.0 475.6h0M336.1 477.1h0M337.3 483.0h0M338.4 477.9h0M339.5 487.2h0M340.6 452.1h0M341.8 459.5h0M342.9 485.4h0M344.0 484.4h0M345.2 485.5h0M346.3 483.6h0M347.4 491.6h0M348.6 481.2h0M349.7 488.7h0M350.8 486.4h0M352.0 486.1h0M353.1 488.7h0M354.2 489.1h0M355.4 487.0h0M356.5 482.8h0M357.6 480.6h0M358.8 479.7h0M359.9 484.8h0M361.0 483.8h0M362.1 484.7h0M363.3 480.3h0M364.4 489.0h0M365.5 478.3h0M366.7 484.6h0M367.8 486.3h0M368.9 483.5h0M370.1 482.2h0M371.2 485.0h0M372.3 483.8h0M373.5 486.9h0M374.6 483.7h0M375.7 484.2h0M376.9 487.2h0M378.0 481.9h0M379.1 485.0h0M380.2 484.6h0M381.4 486.7h0M382.5 484.6h0M383.6 481.3h0M384.8 487.7h0M385.9 481.7h0M387.0 483.0h0M388.2 484.3h0M389.3 491.4h0M390.4 486.0h0M391.6 484.3h0M392.7 488.7h0M393.8 487.2h0M395.0 493.4h0M396.1 485.2h0M397.2 488.8h0M398.4 483.7h0M399.5 492.5h0M400.6 484.8h0M401.7 487.3h0M402.9 484.4h0M404.0 489.8h0M405.1 488.6h0M406.3 479.4h0M407.4 488.1h0M408.5 487.5h0M409.7 485.9h0M410.8 488.0h0M411.9 481.5h0M413.1 479.7h0M414.2 486.7h0M415.3 489.7h0M416.5 481.3h0M417.6 480.8h0M418.7 481.8h0M419.8 480.8h0M421.0 486.4h0M422.1 484.3h0M423.2 487.5h0M424.4 488.1h0M425.5 482.5h0M426.6 486.8h0M427.8 478.6h0M428.9 485.6h0M430.0 488.3h0M431.2 484.5h0M432.3 479.8h0M433.4 483.9h0M434.6 489.6h0M435.7 484.2h0M436.8 481.4h0M438.0 485.6h0M439.1 487.8h0M440.2 483.9h0M441.3 485.7h0M442.5 489.6h0M443.6 487.6h0M444.7 490.4h0M445.9 486.8h0M447.0 485.6h0M448.1 483.4h0M449.3 484.0h0M450.4 490.6h0M451.5 483.0h0M452.7 481.6h0M453.8 483.7h0M454.9 480.7h0M456.1 485.6h0M457.2 471.4h0M458.3 482.1h0M459.4 488.2h0M460.6 492.1h0M461.7 482.6h0M462.8 488.0h0M464.0 486.8h0M465.1 490.1h0M466.2 490.3h0M467.4 489.7h0M468.5 488.5h0M469.6 486.6h0M470.8 493.4h0M471.9 484.9h0M473.0 489.9h0M474.2 488.7h0M475.3 483.3h0M476.4 485.7h0M477.6 489.8h0M478.7 481.2h0M479.8 488.1h0M480.9 485.0h0M482.1 485.4h0M483.2 482.1h0M484.3 487.5h0M485.5 483.3h0M486.6 488.4h0M487.7 483.4h0M488.9 489.1h0M490.0 472.1h0M491.1 480.4h0M492.3 484.7h0M493.4 485.1h0M494.5 479.2h0M495.7 484.3h0M496.8 488.0h0M497.9 484.3h0M499.0 489.6h0M500.2 483.7h0M501.3 482.7h0M502.4 486.9h0M503.6 487.2h0M504.7 484.0h0M505.8 484.2h0M507.0 486.8h0M508.1 482.8h0M509.2 490.6h0M510.4 484.9h0M511.5 485.5h0M512.6 485.6h0M513.8 483.6h0M514.9 488.5h0M516.0 483.7h0M517.2 488.2h0M518.3 489.2h0M519.4 490.3h0M520.5 490.0h0M521.7 485.1h0M522.8 487.9h0M523.9 483.7h0M525.1 481.0h0M526.2 481.8h0M527.3 480.8h0M528.5 485.9h0M529.6 488.6h0M530.7 483.4h0M531.9 485.6h0M533.0 483.1h0M534.1 486.4h0M535.3 483.4h0M536.4 484.7h0M537.5 485.1h0M538.7 486.4h0M539.8 485.8h0M540.9 486.5h0M542.0 486.6h0M543.2 484.1h0M544.3 487.2h0M545.4 481.1h0M546.6 487.1h0M547.7 483.3h0M548.8 486.0h0M550.0 487.0h0M551.1 481.6h0M552.2 486.9h0M553.4 488.9h0M554.5 487.3h0M555.6 486.8h0M556.8 479.7h0M557.9 484.4h0M559.0 482.5h0M560.1 488.7h0M561.3 485.2h0M562.4 484.1h0M563.5 481.7h0M564.7 488.4h0M565.8 485.2h0M566.9 485.7h0M568.1 489.1h0M569.2 486.9h0M570.3 487.1h0M571.5 492.5h0M572.6 484.6h0M573.7 484.1h0M574.9 487.4h0M576.0 489.8h0M577.1 482.2h0M578.3 485.4h0M579.4 482.6h0M580.5 481.7h0M581.6 486.7h0M582.8 482.1h0M583.9 485.4h0M585.0 485.8h0M586.2 485.6h0M587.3 485.5h0M588.4 481.8h0M589.6 484.5h0M590.7 484.1h0M591.8 483.6h0M593.0 482.6h0M594.1 486.5h0M595.2 486.3h0M596.4 484.8h0M597.5 486.3h0M598.6 485.0h0M599.7 486.7h0M600.9 479.3h0M602.0 480.7h0M603.1 483.0h0M604.3 484.7h0M605.4 478.8h0M606.5 483.6h0M607.7 484.3h0M608.8 482.7h0M609.9 483.0h0M611.1 480.8h0M612.2 484.5h0M613.3 478.0h0M614.5 486.4h0M615.6 482.4h0M616.7 486.7h0M617.9 478.2h0M619.0 483.7h0M620.1 484.5h0M621.2 481.3h0M622.4 480.6h0M623.5 488.1h0M624.6 485.9h0M625.8 489.6h0M626.9 483.5h0M628.0 483.0h0M629.2 482.9h0M630.3 483.3h0M631.4 482.8h0M632.6 484.3h0M633.7 480.0h0M634.8 477.5h0M636.0 492.4h0M637.1 485.3h0M638.2 486.2h0M639.3 482.2h0M640.5 488.9h0M641.6 485.4h0M642.7 489.0h0M643.9 480.0h0M645.0 482.3h0M646.1 482.6h0M647.3 479.1h0M648.4 481.3h0M649.5 461.7h0M650.7 476.1h0M651.8 477.5h0M652.9 480.4h0M654.1 474.2h0M655.2 472.8h0M656.3 485.7h0M657.5 485.1h0M658.6 472.2h0M659.7 472.6h0M660.8 484.1h0M662.0 464.7h0M663.1 482.5h0M664.2 481.1h0M665.4 487.5h0M666.5 478.7h0M667.6 485.4h0M668.8 485.7h0M669.9 472.3h0M671.0 481.5h0M672.2 464.7h0M673.3 472.8h0M674.4 471.5h0M675.6 477.8h0M676.7 476.9h0M677.8 481.2h0M678.9 467.3h0M680.1 473.3h0M681.2 482.9h0M682.3 476.6h0M683.5 472.0h0M684.6 473.2h0M685.7 465.8h0M686.9 468.6h0M688.0 479.1h0M689.1 476.0h0M690.3 483.0h0M691.4 475.1h0M692.5 476.7h0M693.7 462.3h0M694.8 477.4h0M695.9 490.0h0M697.1 482.5h0M698.2 477.9h0M699.3 484.2h0M700.4 481.6h0M701.6 479.3h0M702.7 474.7h0M703.8 476.8h0M705.0 480.6h0M706.1 472.3h0M707.2 454.3h0M708.4 480.4h0M709.5 486.1h0M710.6 483.2h0M711.8 475.0h0M712.9 487.2h0M714.0 459.5h0M715.2 472.9h0M716.3 479.3h0M717.4 476.7h0M718.6 484.7h0M719.7 471.9h0M720.8 473.9h0M721.9 479.4h0M723.1 490.4h0M724.2 486.6h0M725.3 476.8h0M726.5 473.5h0M727.6 480.8h0M728.7 476.7h0M729.9 484.9h0M731.0 483.6h0M732.1 483.2h0M733.3 481.3h0M734.4 489.1h0M735.5 480.3h0M736.7 478.9h0M737.8 486.2h0M738.9 487.0h0M740.0 481.6h0M741.2 484.2h0M742.3 489.9h0M743.4 481.2h0M744.6 483.5h0M745.7 484.9h0M746.8 478.2h0M748.0 483.5h0M749.1 486.3h0M750.2 484.1h0M751.4 487.4h0M752.5 486.2h0M753.6 482.3h0M754.8 486.0h0M755.9 484.9h0M757.0 478.0h0M758.2 479.9h0M759.3 480.9h0M760.4 482.1h0M761.5 481.8h0M762.7 480.1h0M763.8 484.9h0M764.9 479.7h0M766.1 487.5h0M767.2 485.9h0M768.3 488.6h0M769.5 484.4h0M770.6 481.1h0M771.7 479.2h0M772.9 485.1h0M774.0 482.4h0M775.1 484.1h0M776.3 485.9h0M777.4 487.3h0M778.5 482.6h0M779.6 488.2h0M780.8 484.5h0M781.9 485.1h0M783.0 487.1h0M784.2 488.5h0M785.3 489.9h0M786.4 480.2h0M787.6 488.5h0M788.7 479.5h0M789.8 482.1h0M791.0 484.9h0M792.1 487.7h0M793.2 480.2h0M794.4 477.7h0M795.5 485.7h0M796.6 483.9h0M797.8 480.3h0M798.9 482.8h0M800.0 479.7h0M801.1 487.6h0M802.3 483.8h0M803.4 488.6h0M804.5 479.4h0M805.7 487.2h0M806.8 491.6h0M807.9 485.5h0M809.1 486.0h0M810.2 479.7h0M811.3 485.9h0M812.5 484.0h0M813.6 481.7h0M814.7 478.9h0M815.9 484.3h0M817.0 482.4h0M818.1 483.3h0M819.2 485.4h0M820.4 484.4h0M821.5 484.3h0M822.6 486.2h0M823.8 480.0h0M824.9 487.8h0M826.0 481.0h0M827.2 481.6h0M828.3 484.9h0M829.4 486.8h0M830.6 484.9h0M831.7 482.6h0M832.8 482.7h0M834.0 483.4h0M835.1 481.3h0M836.2 485.4h0M837.4 482.9h0M838.5 487.5h0M839.6 480.9h0M840.7 483.1h0M841.9 485.2h0M843.0 481.3h0M844.1 484.3h0M845.3 493.4h0M846.4 486.8h0M847.5 490.8h0M848.7 484.0h0M849.8 480.4h0M850.9 487.5h0M852.1 486.4h0M853.2 486.2h0M854.3 484.2h0M855.5 482.9h0M856.6 480.4h0M857.7 486.7h0M858.9 479.7h0M860.0 486.6h0M861.1 484.4h0M862.2 482.3h0M863.4 484.0h0M864.5 488.0h0M865.6 487.6h0M866.8 487.3h0M867.9 486.3h0M869.0 469.2h0M870.2 490.0h0M871.3 485.7h0M872.4 484.8h0M873.6 485.9h0M874.7 486.2h0M875.8 483.4h0M877.0 486.1h0M878.1 483.7h0M879.2 486.3h0M880.3 481.2h0M881.5 489.8h0M882.6 481.4h0M883.7 484.8h0M884.9 485.8h0M886.0 486.8h0M887.1 489.4h0M888.3 486.7h0M889.4 488.0h0M890.5 484.4h0M891.7 490.1h0M892.8 482.4h0M893.9 485.7h0M895.1 487.1h0M896.2 487.6h0M897.3 488.1h0M898.5 489.1h0M899.6 487.5h0M900.7 486.5h0M901.8 486.6h0M903.0 490.2h0M904.1 487.8h0M905.2 488.2h0M906.4 485.9h0M907.5 480.8h0M908.6 483.6h0M909.8 485.6h0M910.9 488.8h0M912.0 488.9h0M913.2 489.8h0M914.3 483.9h0M915.4 487.2h0M916.6 484.5h0M917.7 485.4h0M918.8 483.3h0M919.9 479.6h0M921.1 484.9h0M922.2 484.4h0M923.3 485.8h0M924.5 481.8h0M925.6 487.0h0M926.7 487.4h0M927.9 487.6h0M929.0 487.5h0"/>
<path class="d" style="stroke-width:5.9" stroke="#660066" d="M108.7 118.5h0M109.8 118.5h0M111.0 118.5h0M112.1 118.5h0M113.2 118.5h0M114.4 118.5h0M115.5 118.5h0M116.6 118.5h0M117.8 118.5h0M118.9 118.5h0M120.0 118.5h0M121.1 118.5h0M122.3 118.5h0M123.4 118.5h0M124.5 118.5h0M125.7 118.5h0M126.8 118.5h0M127.9 118.5h0M129.1 118.5h0M130.2 118.5h0M131.3 118.5h0M132.5 118.5h0M133.6 118.5h0M134.7 118.5h0M135.9 118.5h0M137.0 118.5h0M138.1 118.5h0M139.2 118.5h0M140.4 118.5h0M141.5 118.5h0M142.6 118.5h0M143.8 118.5h0M144.9 118.5h0M146.0 118.5h0M147.2 118.5h0M148.3 118.5h0M149.4 118.5h0M150.6 118.5h0M151.7 118.5h0M152.8 118.5h0M154.0 118.5h0M155.1 118.5h0M156.2 118.5h0M157.4 118.5h0M158.5 118.5h0M159.6 118.5h0M160.7 118.5h0M161.9 118.5h0M163.0 118.5h0M164.1 118.5h0M165.3 118.5h0M166.4 118.5h0M167.5 118.5h0M168.7 118.5h0M169.8 118.5h0M170.9 118.5h0M172.1 118.5h0M173.2 118.5h0M174.3 118.5h0M175.5 118.5h0M176.6 118.5h0M177.7 118.5h0M178.8 118.5h0M180.0 118.5h0M181.1 118.5h0M182.2 118.5h0M183.4 118.5h0M184.5 118.5h0M185.6 118.5h0M186.8 118.5h0M187.9 118.5h0M189.0 118.5h0M190.2 118.5h0M191.3 118.5h0M192.4 118.5h0M193.6 118.5h0M194.7 118.5h0M195.8 118.5h0M197.0 118.5h0M198.1 118.5h0M199.2 118.5h0M200.3 118.5h0M201.5 118.5h0M202.6 118.5h0M203.7 118.5h0M204.9 118.5h0M206.0 118.5h0M207.1 118.5h0M208.3 118.5h0M209.4 118.5h0M210.5 118.5h0M211.7 118.5h0M212.8 118.5h0M213.9 118.5h0M215.1 118.5h0M216.2 118.5h0M217.3 118.5h0M218.5 118.5h0M219.6 118.5h0M220.7 118.5h0M221.8 118.5h0M223.0 118.5h0M224.1 118.5h0M225.2 118.5h0M226.4 118.5h0M227.5 118.5h0M228.6 118.5h0M229.8 118.5h0M230.9 118.5h0M232.0 118.5h0M233.2 118.5h0M234.3 118.5h0M235.4 118.5h0M236.6 118.5h0M237.7 118.5h0M238.8 118.5h0M239.9 118.5h0M241.1 118.5h0M242.2 118.5h0M243.3 118.5h0M244.5 118.5h0M245.6 118.5h0M246.7 118.5h0M247.9 118.5h0M249.0 118.5h0M250.1 118.5h0M251.3 118.5h0M252.4 118.5h0M253.5 118.5h0M254.7 118.5h0M255.8 118.5h0M256.9 118.5h0M258.1 118.5h0M259.2 118.5h0M260.3 118.5h0M261.4 118.5h0M262.6 118.5h0M263.7 118.5h0M264.8 118.5h0M266.0 118.5h0M267.1 118.5h0M268.2 118.5h0M269.4 118.5h0M270.5 118.5h0M271.6 118.5h0M272.8 118.5h0M273.9 118.5h0M275.0 118.5h0M276.2 118.5h0M277.3 118.5h0M278.4 118.5h0M279.5 118.5h0M280.7 118.5h0M281.8 118.5h0M282.9 118.5h0M284.1 118.5h0M285.2 118.5h0M286.3 118.5h0M287.5 118.5h0M288.6 118.5h0M289.7 118.5h0M290.9 118.5h0M292.0 118.5h0M293.1 118.5h0M294.3 118.5h0M295.4 118.5h0M296.5 118.5h0M297.7 118.5h0M298.8 118.5h0M299.9 118.5h0M301.0 118.5h0M302.2 118.5h0M303.3 118.5h0M304.4 118.5h0M305.6 118.5h0M306.7 118.5h0M307.8 118.5h0M309.0 118.5h0M310.1 118.5h0M311.2 118.5h0M312.4 118.5h0M313.5 118.5h0M314.6 118.5h0M315.8 118.5h0M316.9 118.5h0M318.0 118.5h0M319.1 118.5h0M320.3 118.5h0M321.4 118.5h0M322.5 118.5h0M323.7 118.5h0M324.8 118.5h0M325.9 118.5h0M327.1 118.5h0M328.2 118.5h0M329.3 118.5h0M330.5 118.5h0M331.6 118.5h0M332.7 118.5h0M333.9 118.5h0M335.0 118.5h0M336.1 118.5h0M337.3 118.5h0M338.4 118.5h0M339.5 118.5h0M340.6 118.5h0M341.8 118.5h0M342.9 118.5h0M344.0 118.5h0M345.2 118.5h0M346.3 118.5h0M347.4 118.5h0M348.6 118.5h0M349.7 118.5h0M350.8 118.5h0M352.0 118.5h0M353.1 118.5h0M354.2 118.5h0M355.4 118.5h0M356.5 118.5h0M357.6 118.5h0M358.8 118.5h0M359.9 118.5h0M361.0 118.5h0M362.1 118.5h0M363.3 118.5h0M364.4 118.5h0M365.5 118.5h0M366.7 118.5h0M367.8 118.5h0M368.9 118.5h0M370.1 118.5h0M371.2 118.5h0M372.3 118.5h0M373.5 118.5h0M374.6 118.5h0M375.7 118.5h0M376.9 118.5h0M378.0 118.5h0M379.1 118.5h0M380.2 118.5h0M381.4 118.5h0M382.5 118.5h0M383.6 118.5h0M384.8 118.5h0M385.9 118.5h0M387.0 118.5h0M388.2 118.5h0M389.3 118.5h0M390.4 118.5h0M391.6 118.5h0M392.7 118.5h0M393.8 118.5h0M395.0 118.5h0M396.1 118.5h0M397.2 118.5h0M398.4 118.5h0M399.5 118.5h0M400.6 118.5h0M401.7 118.5h0M402.9 118.5h0M404.0 118.5h0M405.1 118.5h0M406.3 118.5h0M407.4 118.5h0M408.5 118.5h0M409.7 118.5h0M410.8 118.5h0M411.9 118.5h0M413.1 118.5h0M414.2 118.5h0M415.3 118.5h0M416.5 118.5h0M417.6 118.5h0M418.7 118.5h0M419.8 118.5h0M421.0 118.5h0M422.1 118.5h0M423.2 118.5h0M424.4 118.5h0M425.5 118.5h0M426.6 118.5h0M427.8 118.5h0M428.9 118.5h0M430.0 118.5h0M431.2 118.5h0M432.3 118.5h0M433.4 118.5h0M434.6 118.5h0M435.7 118.5h0M436.8 118.5h0M438.0 118.5h0M439.1 118.5h0M440.2 118.5h0M441.3 118.5h0M442.5 118.5h0M443.6 118.5h0M444.7 118.5h0M445.9 118.5h0M447.0 118.5h0M448.1 118.5h0M449.3 118.5h0M450.4 118.5h0M451.5 118.5h0M452.7 118.5h0M453.8 118.5h0M454.9 118.5h0M456.1 118.5h0M457.2 118.5h0M458.3 118.5h0M459.4 118.5h0M460.6 118.5h0M461.7 118.5h0M462.8 118.5h0M464.0 118.5h0M465.1 118.5h0M466.2 118.5h0M467.4 118.5h0M468.5 118.5h0M469.6 118.5h0M470.8 118.5h0M471.9 118.5h0M473.0 118.5h0M474.2 118.5h0M475.3 118.5h0M476.4 118.5h0M477.6 118.5h0M478.7 118.5h0M479.8 118.5h0M480.9 118.5h0M482.1 118.5h0M483.2 118.5h0M484.3 118.5h0M485.5 118.5h0M486.6 118.5h0M487.7 118.5h0M488.9 118.5h0M490.0 118.5h0M491.1 118.5h0M492.3 118.5h0M493.4 118.5h0M494.5 118.5h0M495.7 118.5h0M496.8 118.5h0M497.9 118.5h0M499.0 118.5h0M500.2 118.5h0M501.3 118.5h0M502.4 118.5h0M503.6 118.5h0M504.7 118.5h0M505.8 118.5h0M507.0 118.5h0M508.1 118.5h0M509.2 118.5h0M510.4 118.5h0M511.5 118.5h0M512.6 118.5h0M513.8 118.5h0M514.9 118.5h0M516.0 118.5h0M517.2 118.5h0M518.3 118.5h0M519.4 118.5h0M520.5 118.5h0M521.7 118.5h0M522.8 118.5h0M523.9 118.5h0M525.1 118.5h0M526.2 118.5h0M527.3 118.5h0M528.5 118.5h0M529.6 118.5h0M530.7 118.5h0M531.9 118.5h0M533.0 118.5h0M534.1 118.5h0M535.3 118.5h0M536.4 118.5h0M537.5 118.5h0M538.7 118.5h0M539.8 118.5h0M540.9 118.5h0M542.0 118.5h0M543.2 118.5h0M544.3 118.5h0M545.4 118.5h0M546.6 118.5h0M547.7 118.5h0M548.8 118.5h0M550.0 118.5h0M551.1 118.5h0M552.2 118.5h0M553.4 118.5h0M554.5 118.5h0M555.6 118.5h0M556.8 118.5h0M557.9 118.5h0M559.0 118.5h0M560.1 118.5h0M561.3 118.5h0M562.4 118.5h0M563.5 118.5h0M564.7 118.5h0M565.8 118.5h0M566.9 118.5h0M568.1 118.5h0M569.2 118.5h0M570.3 118.5h0M571.5 118.5h0M572.6 118.5h0M573.7 118.5h0M574.9 118.5h0M576.0 118.5h0M577.1 118.5h0M578.3 118.5h0M579.4 118.5h0M580.5 118.5h0M581.6 118.5h0M582.8 118.5h0M583.9 118.5h0M585.0 118.5h0M586.2 118.5h0M587.3 118.5h0M588.4 118.5h0M589.6 118.5h0M590.7 118.5h0M591.8 118.5h0M593.0 118.5h0M594.1 118.5h0M595.2 118.5h0M596.4 118.5h0M597.5 118.5h0M598.6 118.5h0M599.7 118.5h0M600.9 118.5h0M602.0 118.5h0M603.1 118.5h0M604.3 118.5h0M605.4 118.5h0M606.5 118.5h0M607.7 118.5h0M608.8 118.5h0M609.9 118.5h0M611.1 118.5h0M612.2 118.5h0M613.3 118.5h0M614.5 118.5h0M615.6 118.5h0M616.7 118.5h0M617.9 118.5h0M619.0 118.5h0M620.1 118.5h0M621.2 118.5h0M622.4 118.5h0M623.5 118.5h0M624.6 118.5h0M625.8 118.5h0M626.9 118.5h0M628.0 118.5h0M629.2 118.5h0M630.3 118.5h0M631.4 118.5h0M632.6 118.5h0M633.7 118.5h0M634.8 118.5h0M636.0 118.5h0M637.1 118.5h0M638.2 118.5h0M639.3 118.5h0M640.5 118.5h0M641.6 118.5h0M642.7 118.5h0M643.9 118.5h0M645.0 118.5h0M646.1 118.5h0M647.3 118.5h0M648.4 118.5h0M649.5 118.5h0M650.7 118.5h0M651.8 118.5h0M652.9 118.5h0M654.1 118.5h0M655.2 118.5h0M656.3 118.5h0M657.5 118.5h0M658.6 118.5h0M659.7 118.5h0M660.8 118.5h0M662.0 118.5h0M663.1 118.5h0M664.2 118.5h0M665.4 118.5h0M666.5 118.5h0M667.6 118.5h0M668.8 118.5h0M669.9 118.5h0M671.0 118.5h0M672.2 118.5h0M673.3 118.5h0M674.4 118.5h0M675.6 118.5h0M676.7 118.5h0M677.8 118.5h0M678.9 118.5h0M680.1 118.5h0M681.2 118.5h0M682.3 118.5h0M683.5 118.5h0M684.6 118.5h0M685.7 118.5h0M686.9 118.5h0M688.0 118.5h0M689.1 118.5h0M690.3 118.5h0M691.4 118.5h0M692.5 118.5h0M693.7 118.5h0M694.8 118.5h0M695.9 118.5h0M697.1 118.5h0M698.2 118.5h0M699.3 118.5h0M700.4 118.5h0M701.6 118.5h0M702.7 118.5h0M703.8 118.5h0M705.0 118.5h0M706.1 118.5h0M707.2 118.5h0M708.4 118.5h0M709.5 118.5h0M710.6 118.5h0M711.8 118.5h0M712.9 118.5h0M714.0 118.5h0M715.2 118.5h0M716.3 118.5h0M717.4 118.5h0M718.6 118.5h0M719.7 118.5h0M720.8 118.5h0M721.9 118.5h0M723.1 118.5h0M724.2 118.5h0M725.3 118.5h0M726.5 118.5h0M727.6 118.5h0M728.7 118.5h0M729.9 118.5h0M731.0 118.5h0M732.1 118.5h0M733.3 118.5h0M734.4 118.5h0M735.5 118.5h0M736.7 118.5h0M737.8 118.5h0M738.9 118.5h0M740.0 118.5h0M741.2 118.5h0M742.3 118.5h0M743.4 118.5h0M744.6 118.5h0M745.7 118.5h0M746.8 118.5h0M748.0 118.5h0M749.1 118.5h0M750.2 118.5h0M751.4 118.5h0M752.5 118.5h0M753.6 118.5h0M754.8 118.5h0M755.9 118.5h0M757.0 118.5h0M758.2 118.5h0M759.3 118.5h0M760.4 118.5h0M761.5 118.5h0M762.7 118.5h0M763.8 118.5h0M764.9 118.5h0M766.1 118.5h0M767.2 118.5h0M768.3 118.5h0M769.5 118.5h0M770.6 118.5h0M771.7 118.5h0M772.9 118.5h0M774.0 118.5h0M775.1 118.5h0M776.3 118.5h0M777.4 118.5h0M778.5 118.5h0M779.6 118.5h0M780.8 118.5h0M781.9 118.5h0M783.0 118.5h0M784.2 118.5h0M785.3 118.5h0M786.4 118.5h0M787.6 118.5h0M788.7 118.5h0M789.8 118.5h0M791.0 118.5h0M792.1 118.5h0M793.2 118.5h0M794.4 118.5h0M795.5 118.5h0M796.6 118.5h0M797.8 118.5h0M798.9 118.5h0M800.0 118.5h0M801.1 118.5h0M802.3 118.5h0M803.4 118.5h0M804.5 118.5h0M805.7 118.5h0M806.8 118.5h0M807.9 118.5h0M809.1 118.5h0M810.2 118.5h0M811.3 118.5h0M812.5 118.5h0M813.6 118.5h0M814.7 118.5h0M815.9 118.5h0M817.0 118.5h0M818.1 118.5h0M819.2 118.5h0M820.4 118.5h0M821.5 118.5h0M822.6 118.5h0M823.8 118.5h0M824.9 118.5h0M826.0 118.5h0M827.2 118.5h0M828.3 118.5h0M829.4 118.5h0M830.6 118.5h0M831.7 118.5h0M832.8 118.5h0M834.0 118.5h0M835.1 118.5h0M836.2 118.5h0M837.4 118.5h0M838.5 118.5h0M839.6 118.5h0M840.7 118.5h0M841.9 118.5h0M843.0 118.5h0M844.1 118.5h0M845.3 118.5h0M846.4 118.5h0M847.5 118.5h0M848.7 118.5h0M849.8 118.5h0M850.9 118.5h0M852.1 118.5h0M853.2 118.5h0M854.3 118.5h0M855.5 118.5h0M856.6 118.5h0M857.7 118.5h0M858.9 118.5h0M860.0 118.5h0M861.1 118.5h0M862.2 118.5h0M863.4 118.5h0M864.5 118.5h0M865.6 118.5h0M866.8 118.5h0M867.9 118.5h0M869.0 118.5h0M870.2 118.5h0M871.3 118.5h0M872.4 118.5h0M873.6 118.5h0M874.7 118.5h0M875.8 118.5h0M877.0 118.5h0M878.1 118.5h0M879.2 118.5h0M880.3 118.5h0M881.5 118.5h0M882.6 118.5h0M883.7 118.5h0M884.9 118.5h0M886.0 118.5h0M887.1 118.5h0M888.3 118.5h0M889.4 118.5h0M890.5 118.5h0M891.7 118.5h0M892.8 118.5h0M893.9 118.5h0M895.1 118.5h0M896.2 118.5h0M897.3 118.5h0M898.5 118.5h0M899.6 118.5h0M900.7 118.5h0M901.8 118.5h0M903.0 118.5h0M904.1 118.5h0M905.2 118.5h0M906.4 118.5h0M907.5 118.5h0M908.6 118.5h0M909.8 118.5h0M910.9 118.5h0M912.0 118.5h0M913.2 118.5h0M914.3 118.5h0M915.4 118.5h0M916.6 118.5h0M917.7 118.5h0M918.8 118.5h0M919.9 118.5h0M921.1 118.5h0M922.2 118.5h0M923.3 118.5h0M924.5 118.5h0M925.6 118.5h0M926.7 118.5h0M927.9 118.5h0M929.0 118.5h0"/>
</g>
<line x1="106.0" y1="125.00" x2="974.6" y2="125.00" stroke="#000" stroke-width="2.2"/>
<line x1="938.5" y1="115.1" x2="938.5" y2="135.3" stroke="#000" stroke-width="2.8"/>
<line x1="938.5" y1="140.1" x2="938.5" y2="502.5" stroke="#000" stroke-width="2.8" stroke-dasharray="10 4.72"/>
<text id="now" transform="translate(949.2 349.5) rotate(90) scale(0.84 1)" x="0" y="0" font-size="22.2">Now</text>
<rect x="106.00" y="112.00" width="867.00" height="391.00" fill="none" stroke="#000" stroke-width="2.2"/>
<g stroke="#000" stroke-width="2.2">
<line x1="95.7" y1="497.00" x2="106.0" y2="497.00"/>
<line x1="95.7" y1="423.00" x2="106.0" y2="423.00"/>
<line x1="95.7" y1="348.00" x2="106.0" y2="348.00"/>
<line x1="95.7" y1="273.50" x2="106.0" y2="273.50"/>
<line x1="95.7" y1="199.00" x2="106.0" y2="199.00"/>
<line x1="95.7" y1="125.00" x2="106.0" y2="125.00"/>
</g>
<text transform="translate(86.30 506.70) scale(1.0370 1)" font-size="24.00" text-anchor="end">0</text>
<text transform="translate(86.30 432.30) scale(1.0370 1)" font-size="24.00" text-anchor="end">10</text>
<text transform="translate(86.30 357.90) scale(1.0370 1)" font-size="24.00" text-anchor="end">20</text>
<text transform="translate(86.30 283.50) scale(1.0370 1)" font-size="24.00" text-anchor="end">30</text>
<text transform="translate(86.30 209.10) scale(1.0370 1)" font-size="24.00" text-anchor="end">40</text>
<text transform="translate(86.30 134.70) scale(1.0370 1)" font-size="24.00" text-anchor="end">50</text>
<g stroke="#000" stroke-width="2.2">
<line x1="191.66" y1="503.0" x2="191.66" y2="513.0"/>
<line x1="398.52" y1="503.0" x2="398.52" y2="513.0"/>
<line x1="604.26" y1="503.0" x2="604.26" y2="513.0"/>
<line x1="811.12" y1="503.0" x2="811.12" y2="513.0"/>
</g>
<g stroke="#000" stroke-width="1.9">
<line x1="122.71" y1="503.0" x2="122.71" y2="508.8"/>
<line x1="156.62" y1="503.0" x2="156.62" y2="508.8"/>
<line x1="225.57" y1="503.0" x2="225.57" y2="508.8"/>
<line x1="260.61" y1="503.0" x2="260.61" y2="508.8"/>
<line x1="295.66" y1="503.0" x2="295.66" y2="508.8"/>
<line x1="329.57" y1="503.0" x2="329.57" y2="508.8"/>
<line x1="364.61" y1="503.0" x2="364.61" y2="508.8"/>
<line x1="433.57" y1="503.0" x2="433.57" y2="508.8"/>
<line x1="468.61" y1="503.0" x2="468.61" y2="508.8"/>
<line x1="500.26" y1="503.0" x2="500.26" y2="508.8"/>
<line x1="535.30" y1="503.0" x2="535.30" y2="508.8"/>
<line x1="569.21" y1="503.0" x2="569.21" y2="508.8"/>
<line x1="638.17" y1="503.0" x2="638.17" y2="508.8"/>
<line x1="673.21" y1="503.0" x2="673.21" y2="508.8"/>
<line x1="708.25" y1="503.0" x2="708.25" y2="508.8"/>
<line x1="742.16" y1="503.0" x2="742.16" y2="508.8"/>
<line x1="777.21" y1="503.0" x2="777.21" y2="508.8"/>
<line x1="846.16" y1="503.0" x2="846.16" y2="508.8"/>
<line x1="881.20" y1="503.0" x2="881.20" y2="508.8"/>
<line x1="912.86" y1="503.0" x2="912.86" y2="508.8"/>
<line x1="947.90" y1="503.0" x2="947.90" y2="508.8"/>
</g>
<text transform="translate(192.06 541.80) scale(1.0370 1)" font-size="24.00" text-anchor="middle">06/2024</text>
<text transform="translate(398.92 541.80) scale(1.0370 1)" font-size="24.00" text-anchor="middle">12/2024</text>
<text transform="translate(604.66 541.80) scale(1.0370 1)" font-size="24.00" text-anchor="middle">06/2025</text>
<text transform="translate(811.52 541.80) scale(1.0370 1)" font-size="24.00" text-anchor="middle">12/2025</text>
<text transform="translate(539.00 576.70) scale(1.0370 1)" font-size="24.00" text-anchor="middle" id="xlabel">Month/Year</text>
<text id="ylabel" transform="translate(38.2 315.0) rotate(-90) scale(1.046 1)" font-size="24" text-anchor="middle">Cycle Slipsx1000/nr. Obs</text>
<rect x="20.65" y="598.45" width="950.0" height="79.8" rx="4" ry="4" fill="#fff" stroke="#d5d5d5" stroke-width="2.78"/>
<circle cx="43.5" cy="618.5" r="4.35" fill="#fdb900"/>
<text transform="translate(57.70 625.50) scale(1.0370 1)" font-size="24.00" text-anchor="start">BDS</text>
<circle cx="189.5" cy="618.5" r="4.35" fill="#b40000"/>
<text transform="translate(203.70 625.50) scale(1.0370 1)" font-size="24.00" text-anchor="start">GLO</text>
<circle cx="335.5" cy="618.5" r="4.35" fill="#000096"/>
<text transform="translate(349.70 625.50) scale(1.0370 1)" font-size="24.00" text-anchor="start">GPS</text>
<circle cx="479.5" cy="618.5" r="4.35" fill="#807cba"/>
<text transform="translate(493.70 625.50) scale(1.0370 1)" font-size="24.00" text-anchor="start">RINEX2</text>
<circle cx="666.5" cy="618.5" r="4.35" fill="#660066"/>
<text transform="translate(680.70 625.50) scale(1.0370 1)" font-size="24.00" text-anchor="start">RINEX3</text>
<circle cx="853.5" cy="618.5" r="4.35" fill="#1e001e"/>
<text transform="translate(867.70 625.50) scale(1.0370 1)" font-size="24.00" text-anchor="start">RINEX4</text>
<circle cx="43.5" cy="654.5" r="4.35" fill="#339933"/>
<text transform="translate(57.70 661.50) scale(1.0370 1)" font-size="24.00" text-anchor="start">GAL</text>
<text transform="translate(19.80 709.80) scale(1.0000 1)" font-size="19.44" text-anchor="start" font-style="italic" id="f1">Wed Mar 18 12:53:57 2026</text>
<text transform="translate(954.60 709.80) scale(1.0000 1)" font-size="19.44" text-anchor="end" font-style="italic" id="f2">©GNSS@ROB</text>
</svg>
</body>
</html>
